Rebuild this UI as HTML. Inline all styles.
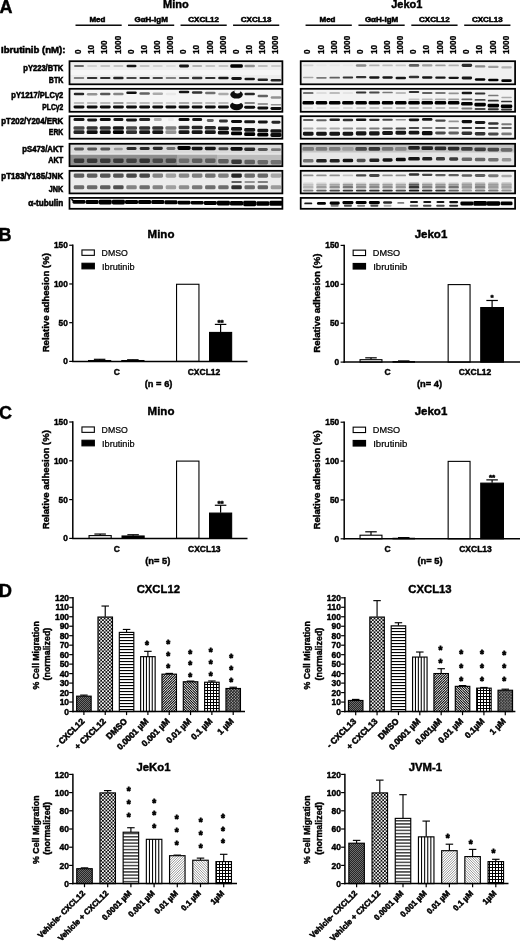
<!DOCTYPE html>
<html><head><meta charset="utf-8"><title>Figure</title>
<style>html,body{margin:0;padding:0;background:#fff}svg{display:block;filter:blur(0.3px)}text{stroke:#000;stroke-width:0.42px}text.hb{stroke-width:0.55px}text[font-weight=normal]{stroke-width:0.22px}</style>
</head><body>
<svg width="520" height="941" viewBox="0 0 520 941" font-family='"Liberation Sans", sans-serif' fill="#000">
<defs>
<filter id="b1" x="-20%" y="-100%" width="140%" height="300%"><feGaussianBlur stdDeviation="0.7"/></filter>
<filter id="b2" x="-20%" y="-100%" width="140%" height="300%"><feGaussianBlur stdDeviation="0.9"/></filter>
<filter id="b0" x="-5%" y="-5%" width="110%" height="110%"><feGaussianBlur stdDeviation="0.35"/></filter>
</defs>
<rect width="520" height="941" fill="#fff"/>
<text x="12.40" y="12.80" font-size="18" font-weight="bold" text-anchor="end" >A</text>
<text x="175.90" y="8.30" font-size="11" font-weight="bold" text-anchor="middle" >Mino</text>
<text x="406.80" y="8.30" font-size="11" font-weight="bold" text-anchor="middle" >Jeko1</text>
<rect x="75.50" y="24.5" width="46.19" height="1.45" fill="#000"/>
<text x="97.39" y="21.55" font-size="8.0" font-weight="bold" text-anchor="middle" class="hb">Med</text>
<rect x="128.02" y="24.5" width="46.19" height="1.45" fill="#000"/>
<text x="151.12" y="21.55" font-size="8.0" font-weight="bold" text-anchor="middle" class="hb">GαH-IgM</text>
<rect x="180.54" y="24.5" width="46.19" height="1.45" fill="#000"/>
<text x="203.64" y="21.55" font-size="8.0" font-weight="bold" text-anchor="middle" class="hb">CXCL12</text>
<rect x="233.06" y="24.5" width="46.19" height="1.45" fill="#000"/>
<text x="256.16" y="21.55" font-size="8.0" font-weight="bold" text-anchor="middle" class="hb">CXCL13</text>
<text x="81.20" y="54.00" font-size="8.2" font-weight="bold" text-anchor="start" transform="rotate(-90 81.20 54.00)" style="stroke-width:0.3px">0</text>
<text x="94.33" y="54.00" font-size="8.2" font-weight="bold" text-anchor="start" transform="rotate(-90 94.33 54.00)" style="stroke-width:0.3px">10</text>
<text x="107.46" y="54.00" font-size="8.2" font-weight="bold" text-anchor="start" transform="rotate(-90 107.46 54.00)" style="stroke-width:0.3px">100</text>
<text x="120.59" y="54.00" font-size="8.2" font-weight="bold" text-anchor="start" transform="rotate(-90 120.59 54.00)" style="stroke-width:0.3px">1000</text>
<text x="133.72" y="54.00" font-size="8.2" font-weight="bold" text-anchor="start" transform="rotate(-90 133.72 54.00)" style="stroke-width:0.3px">0</text>
<text x="146.85" y="54.00" font-size="8.2" font-weight="bold" text-anchor="start" transform="rotate(-90 146.85 54.00)" style="stroke-width:0.3px">10</text>
<text x="159.98" y="54.00" font-size="8.2" font-weight="bold" text-anchor="start" transform="rotate(-90 159.98 54.00)" style="stroke-width:0.3px">100</text>
<text x="173.11" y="54.00" font-size="8.2" font-weight="bold" text-anchor="start" transform="rotate(-90 173.11 54.00)" style="stroke-width:0.3px">1000</text>
<text x="186.24" y="54.00" font-size="8.2" font-weight="bold" text-anchor="start" transform="rotate(-90 186.24 54.00)" style="stroke-width:0.3px">0</text>
<text x="199.37" y="54.00" font-size="8.2" font-weight="bold" text-anchor="start" transform="rotate(-90 199.37 54.00)" style="stroke-width:0.3px">10</text>
<text x="212.50" y="54.00" font-size="8.2" font-weight="bold" text-anchor="start" transform="rotate(-90 212.50 54.00)" style="stroke-width:0.3px">100</text>
<text x="225.63" y="54.00" font-size="8.2" font-weight="bold" text-anchor="start" transform="rotate(-90 225.63 54.00)" style="stroke-width:0.3px">1000</text>
<text x="238.76" y="54.00" font-size="8.2" font-weight="bold" text-anchor="start" transform="rotate(-90 238.76 54.00)" style="stroke-width:0.3px">0</text>
<text x="251.89" y="54.00" font-size="8.2" font-weight="bold" text-anchor="start" transform="rotate(-90 251.89 54.00)" style="stroke-width:0.3px">10</text>
<text x="265.02" y="54.00" font-size="8.2" font-weight="bold" text-anchor="start" transform="rotate(-90 265.02 54.00)" style="stroke-width:0.3px">100</text>
<text x="278.15" y="54.00" font-size="8.2" font-weight="bold" text-anchor="start" transform="rotate(-90 278.15 54.00)" style="stroke-width:0.3px">1000</text>
<rect x="305.55" y="24.5" width="46.26" height="1.45" fill="#000"/>
<text x="327.48" y="21.55" font-size="8.0" font-weight="bold" text-anchor="middle" class="hb">Med</text>
<rect x="358.43" y="24.5" width="46.26" height="1.45" fill="#000"/>
<text x="381.56" y="21.55" font-size="8.0" font-weight="bold" text-anchor="middle" class="hb">GαH-IgM</text>
<rect x="411.31" y="24.5" width="46.26" height="1.45" fill="#000"/>
<text x="434.44" y="21.55" font-size="8.0" font-weight="bold" text-anchor="middle" class="hb">CXCL12</text>
<rect x="464.19" y="24.5" width="46.26" height="1.45" fill="#000"/>
<text x="487.32" y="21.55" font-size="8.0" font-weight="bold" text-anchor="middle" class="hb">CXCL13</text>
<text x="310.45" y="54.00" font-size="8.2" font-weight="bold" text-anchor="start" transform="rotate(-90 310.45 54.00)" style="stroke-width:0.3px">0</text>
<text x="323.67" y="54.00" font-size="8.2" font-weight="bold" text-anchor="start" transform="rotate(-90 323.67 54.00)" style="stroke-width:0.3px">10</text>
<text x="336.89" y="54.00" font-size="8.2" font-weight="bold" text-anchor="start" transform="rotate(-90 336.89 54.00)" style="stroke-width:0.3px">100</text>
<text x="350.11" y="54.00" font-size="8.2" font-weight="bold" text-anchor="start" transform="rotate(-90 350.11 54.00)" style="stroke-width:0.3px">1000</text>
<text x="363.33" y="54.00" font-size="8.2" font-weight="bold" text-anchor="start" transform="rotate(-90 363.33 54.00)" style="stroke-width:0.3px">0</text>
<text x="376.55" y="54.00" font-size="8.2" font-weight="bold" text-anchor="start" transform="rotate(-90 376.55 54.00)" style="stroke-width:0.3px">10</text>
<text x="389.77" y="54.00" font-size="8.2" font-weight="bold" text-anchor="start" transform="rotate(-90 389.77 54.00)" style="stroke-width:0.3px">100</text>
<text x="402.99" y="54.00" font-size="8.2" font-weight="bold" text-anchor="start" transform="rotate(-90 402.99 54.00)" style="stroke-width:0.3px">1000</text>
<text x="416.21" y="54.00" font-size="8.2" font-weight="bold" text-anchor="start" transform="rotate(-90 416.21 54.00)" style="stroke-width:0.3px">0</text>
<text x="429.43" y="54.00" font-size="8.2" font-weight="bold" text-anchor="start" transform="rotate(-90 429.43 54.00)" style="stroke-width:0.3px">10</text>
<text x="442.65" y="54.00" font-size="8.2" font-weight="bold" text-anchor="start" transform="rotate(-90 442.65 54.00)" style="stroke-width:0.3px">100</text>
<text x="455.87" y="54.00" font-size="8.2" font-weight="bold" text-anchor="start" transform="rotate(-90 455.87 54.00)" style="stroke-width:0.3px">1000</text>
<text x="469.09" y="54.00" font-size="8.2" font-weight="bold" text-anchor="start" transform="rotate(-90 469.09 54.00)" style="stroke-width:0.3px">0</text>
<text x="482.31" y="54.00" font-size="8.2" font-weight="bold" text-anchor="start" transform="rotate(-90 482.31 54.00)" style="stroke-width:0.3px">10</text>
<text x="495.53" y="54.00" font-size="8.2" font-weight="bold" text-anchor="start" transform="rotate(-90 495.53 54.00)" style="stroke-width:0.3px">100</text>
<text x="508.75" y="54.00" font-size="8.2" font-weight="bold" text-anchor="start" transform="rotate(-90 508.75 54.00)" style="stroke-width:0.3px">1000</text>
<text x="1.00" y="53.20" font-size="9.6" font-weight="bold" text-anchor="start" textLength="64.5" lengthAdjust="spacingAndGlyphs" class="hb">Ibrutinib (nM):</text>
<text x="63.30" y="70.80" font-size="8.6" font-weight="bold" text-anchor="end" textLength="40" lengthAdjust="spacingAndGlyphs" class="hb">pY223/BTK</text>
<text x="63.30" y="83.30" font-size="8.6" font-weight="bold" text-anchor="end" textLength="14.5" lengthAdjust="spacingAndGlyphs" class="hb">BTK</text>
<text x="63.30" y="97.80" font-size="8.6" font-weight="bold" text-anchor="end" textLength="52" lengthAdjust="spacingAndGlyphs" class="hb">pY1217/PLCγ2</text>
<text x="63.30" y="109.80" font-size="8.6" font-weight="bold" text-anchor="end" textLength="21" lengthAdjust="spacingAndGlyphs" class="hb">PLCγ2</text>
<text x="63.30" y="123.80" font-size="8.6" font-weight="bold" text-anchor="end" textLength="62" lengthAdjust="spacingAndGlyphs" class="hb">pT202/Y204/ERK</text>
<text x="63.30" y="135.30" font-size="8.6" font-weight="bold" text-anchor="end" textLength="14.5" lengthAdjust="spacingAndGlyphs" class="hb">ERK</text>
<text x="63.30" y="152.30" font-size="8.6" font-weight="bold" text-anchor="end" textLength="41" lengthAdjust="spacingAndGlyphs" class="hb">pS473/AKT</text>
<text x="63.30" y="163.30" font-size="8.6" font-weight="bold" text-anchor="end" textLength="15" lengthAdjust="spacingAndGlyphs" class="hb">AKT</text>
<text x="63.30" y="178.50" font-size="8.6" font-weight="bold" text-anchor="end" textLength="62" lengthAdjust="spacingAndGlyphs" class="hb">pT183/Y185/JNK</text>
<text x="63.30" y="191.50" font-size="8.6" font-weight="bold" text-anchor="end" textLength="14.5" lengthAdjust="spacingAndGlyphs" class="hb">JNK</text>
<text x="63.30" y="205.60" font-size="8.6" font-weight="bold" text-anchor="end" textLength="35" lengthAdjust="spacingAndGlyphs" class="hb">α-tubulin</text>
<g filter="url(#b1)"><rect x="69.5" y="61.2" width="212.89999999999998" height="23.099999999999994" fill="#eeeeee"/><rect x="69" y="70" width="213" height="5" fill="#f6f6f6"/><rect x="69.5" y="88.8" width="212.89999999999998" height="23.0" fill="#f5f5f5"/><rect x="69.5" y="116.2" width="212.89999999999998" height="22.499999999999986" fill="#f7f7f7"/><rect x="69.5" y="143.8" width="212.89999999999998" height="22.399999999999977" fill="#dadada"/><rect x="69" y="154.6" width="213" height="12.2" fill="#bcbcbc"/><rect x="69" y="154.6" width="108" height="12.2" fill="#8e8e8e"/><rect x="177" y="154.6" width="40" height="12.2" fill="#a8a8a8"/><rect x="69.5" y="153.4" width="213" height="1.2" fill="#ececec" opacity="0.8"/><rect x="69.5" y="170.8" width="212.89999999999998" height="22.599999999999994" fill="#ececec"/><rect x="69.5" y="197.9" width="212.89999999999998" height="10.900000000000006" fill="#fbfbfb"/><rect x="300.7" y="61.2" width="214.40000000000003" height="23.099999999999994" fill="#f0f0f0"/><rect x="300.7" y="88.8" width="214.40000000000003" height="23.0" fill="#f3f3f3"/><rect x="300.7" y="116.2" width="214.40000000000003" height="22.499999999999986" fill="#f5f5f5"/><rect x="300.7" y="143.8" width="214.40000000000003" height="22.399999999999977" fill="#e6e6e6"/><rect x="300.5" y="145" width="214" height="7.5" fill="#c4c4c4"/><rect x="300.7" y="170.8" width="214.40000000000003" height="22.599999999999994" fill="#f2f2f2"/><rect x="300.7" y="197.9" width="214.40000000000003" height="10.900000000000006" fill="#fbfbfb"/><rect x="74.00" y="64.90" width="10.00" height="2.20" rx="1.10" fill="#000" fill-opacity="0.55"/><rect x="87.13" y="64.90" width="10.00" height="2.20" rx="1.10" fill="#000" fill-opacity="0.12"/><rect x="100.26" y="64.90" width="10.00" height="2.20" rx="1.10" fill="#000" fill-opacity="0.18"/><rect x="113.39" y="64.90" width="10.00" height="2.20" rx="1.10" fill="#000" fill-opacity="0.18"/><rect x="126.52" y="64.68" width="10.00" height="2.64" rx="1.32" fill="#000" fill-opacity="0.90"/><rect x="139.65" y="64.90" width="10.00" height="2.20" rx="1.10" fill="#000" fill-opacity="0.18"/><rect x="152.78" y="64.90" width="10.00" height="2.20" rx="1.10" fill="#000" fill-opacity="0.12"/><rect x="165.91" y="64.90" width="10.00" height="2.20" rx="1.10" fill="#000" fill-opacity="0.08"/><rect x="179.04" y="64.57" width="10.00" height="2.86" rx="1.40" fill="#000" fill-opacity="0.90"/><rect x="192.17" y="64.90" width="10.00" height="2.20" rx="1.10" fill="#000" fill-opacity="0.25"/><rect x="205.30" y="64.90" width="10.00" height="2.20" rx="1.10" fill="#000" fill-opacity="0.18"/><rect x="218.43" y="64.90" width="10.00" height="2.20" rx="1.10" fill="#000" fill-opacity="0.18"/><rect x="230.31" y="64.13" width="12.50" height="3.74" rx="1.40" fill="#000" fill-opacity="1.00"/><rect x="244.44" y="64.68" width="10.50" height="2.64" rx="1.32" fill="#000" fill-opacity="0.40"/><rect x="257.82" y="64.90" width="10.00" height="2.20" rx="1.10" fill="#000" fill-opacity="0.20"/><rect x="270.95" y="64.90" width="10.00" height="2.20" rx="1.10" fill="#000" fill-opacity="0.15"/><rect x="73.75" y="77.12" width="10.50" height="1.76" rx="0.88" fill="#000" fill-opacity="0.45"/><rect x="86.88" y="76.90" width="10.50" height="2.20" rx="1.10" fill="#000" fill-opacity="0.80"/><rect x="100.01" y="76.90" width="10.50" height="2.20" rx="1.10" fill="#000" fill-opacity="0.80"/><rect x="113.14" y="76.79" width="10.50" height="2.42" rx="1.21" fill="#000" fill-opacity="0.85"/><rect x="126.27" y="76.90" width="10.50" height="2.20" rx="1.10" fill="#000" fill-opacity="0.70"/><rect x="139.40" y="76.90" width="10.50" height="2.20" rx="1.10" fill="#000" fill-opacity="0.80"/><rect x="152.53" y="76.90" width="10.50" height="2.20" rx="1.10" fill="#000" fill-opacity="0.70"/><rect x="165.66" y="77.12" width="10.50" height="1.76" rx="0.88" fill="#000" fill-opacity="0.45"/><rect x="178.79" y="76.90" width="10.50" height="2.20" rx="1.10" fill="#000" fill-opacity="0.70"/><rect x="191.92" y="76.79" width="10.50" height="2.42" rx="1.21" fill="#000" fill-opacity="0.80"/><rect x="205.05" y="76.90" width="10.50" height="2.20" rx="1.10" fill="#000" fill-opacity="0.80"/><rect x="218.18" y="76.68" width="10.50" height="2.64" rx="1.32" fill="#000" fill-opacity="0.90"/><rect x="231.31" y="77.07" width="10.50" height="2.86" rx="1.40" fill="#000" fill-opacity="0.90"/><rect x="244.44" y="77.68" width="10.50" height="2.64" rx="1.32" fill="#000" fill-opacity="0.90"/><rect x="257.57" y="78.49" width="10.50" height="2.42" rx="1.21" fill="#000" fill-opacity="0.85"/><rect x="270.70" y="79.09" width="10.50" height="2.42" rx="1.21" fill="#000" fill-opacity="0.85"/><rect x="73.75" y="92.73" width="10.50" height="2.53" rx="1.26" fill="#000" fill-opacity="0.85"/><rect x="86.88" y="93.03" width="10.50" height="2.53" rx="1.26" fill="#000" fill-opacity="0.40"/><rect x="100.01" y="92.73" width="10.50" height="2.53" rx="1.26" fill="#000" fill-opacity="0.65"/><rect x="113.14" y="92.73" width="10.50" height="2.53" rx="1.26" fill="#000" fill-opacity="0.45"/><rect x="126.27" y="91.53" width="10.50" height="2.53" rx="1.26" fill="#000" fill-opacity="0.95"/><rect x="139.40" y="92.23" width="10.50" height="2.53" rx="1.26" fill="#000" fill-opacity="0.60"/><rect x="152.53" y="92.44" width="10.50" height="2.53" rx="1.26" fill="#000" fill-opacity="0.30"/><rect x="165.66" y="92.73" width="10.50" height="2.53" rx="1.26" fill="#000" fill-opacity="0.05"/><rect x="178.79" y="90.73" width="10.50" height="2.53" rx="1.26" fill="#000" fill-opacity="0.90"/><rect x="191.92" y="91.23" width="10.50" height="2.53" rx="1.26" fill="#000" fill-opacity="0.80"/><rect x="205.05" y="91.73" width="10.50" height="2.53" rx="1.26" fill="#000" fill-opacity="0.55"/><rect x="218.18" y="92.73" width="10.50" height="2.53" rx="1.26" fill="#000" fill-opacity="0.30"/><rect x="244.44" y="92.73" width="10.50" height="2.53" rx="1.26" fill="#000" fill-opacity="0.85"/><rect x="257.57" y="94.73" width="10.50" height="2.53" rx="1.26" fill="#000" fill-opacity="0.60"/><rect x="270.70" y="96.23" width="10.50" height="2.53" rx="1.26" fill="#000" fill-opacity="0.40"/><rect x="73.75" y="102.25" width="10.50" height="1.49" rx="0.75" fill="#000" fill-opacity="0.30"/><rect x="86.88" y="102.25" width="10.50" height="1.49" rx="0.75" fill="#000" fill-opacity="0.30"/><rect x="100.01" y="102.25" width="10.50" height="1.49" rx="0.75" fill="#000" fill-opacity="0.30"/><rect x="113.14" y="102.25" width="10.50" height="1.49" rx="0.75" fill="#000" fill-opacity="0.50"/><rect x="126.27" y="102.25" width="10.50" height="1.49" rx="0.75" fill="#000" fill-opacity="0.30"/><rect x="139.40" y="102.25" width="10.50" height="1.49" rx="0.75" fill="#000" fill-opacity="0.30"/><rect x="152.53" y="102.25" width="10.50" height="1.49" rx="0.75" fill="#000" fill-opacity="0.30"/><rect x="165.66" y="102.25" width="10.50" height="1.49" rx="0.75" fill="#000" fill-opacity="0.20"/><rect x="178.79" y="102.25" width="10.50" height="1.49" rx="0.75" fill="#000" fill-opacity="0.40"/><rect x="191.92" y="102.25" width="10.50" height="1.49" rx="0.75" fill="#000" fill-opacity="0.40"/><rect x="205.05" y="102.25" width="10.50" height="1.49" rx="0.75" fill="#000" fill-opacity="0.30"/><rect x="218.18" y="102.25" width="10.50" height="1.49" rx="0.75" fill="#000" fill-opacity="0.30"/><rect x="244.44" y="102.25" width="10.50" height="1.49" rx="0.75" fill="#000" fill-opacity="0.60"/><rect x="257.57" y="103.25" width="10.50" height="1.49" rx="0.75" fill="#000" fill-opacity="0.50"/><rect x="270.70" y="103.95" width="10.50" height="1.49" rx="0.75" fill="#000" fill-opacity="0.40"/><rect x="73.50" y="105.56" width="11.00" height="2.88" rx="1.40" fill="#000" fill-opacity="0.95"/><rect x="86.63" y="105.56" width="11.00" height="2.88" rx="1.40" fill="#000" fill-opacity="0.95"/><rect x="99.76" y="105.56" width="11.00" height="2.88" rx="1.40" fill="#000" fill-opacity="0.95"/><rect x="112.89" y="105.56" width="11.00" height="2.88" rx="1.40" fill="#000" fill-opacity="0.95"/><rect x="126.02" y="105.56" width="11.00" height="2.88" rx="1.40" fill="#000" fill-opacity="0.95"/><rect x="139.15" y="105.56" width="11.00" height="2.88" rx="1.40" fill="#000" fill-opacity="0.95"/><rect x="152.28" y="105.56" width="11.00" height="2.88" rx="1.40" fill="#000" fill-opacity="0.95"/><rect x="165.41" y="105.56" width="11.00" height="2.88" rx="1.40" fill="#000" fill-opacity="0.95"/><rect x="178.54" y="105.56" width="11.00" height="2.88" rx="1.40" fill="#000" fill-opacity="0.95"/><rect x="191.67" y="105.56" width="11.00" height="2.88" rx="1.40" fill="#000" fill-opacity="0.95"/><rect x="204.80" y="105.56" width="11.00" height="2.88" rx="1.40" fill="#000" fill-opacity="0.95"/><rect x="217.93" y="105.56" width="11.00" height="2.88" rx="1.40" fill="#000" fill-opacity="0.95"/><rect x="244.19" y="105.86" width="11.00" height="2.88" rx="1.40" fill="#000" fill-opacity="0.95"/><rect x="257.32" y="106.56" width="11.00" height="2.88" rx="1.40" fill="#000" fill-opacity="0.95"/><rect x="270.45" y="107.06" width="11.00" height="2.88" rx="1.40" fill="#000" fill-opacity="0.95"/><ellipse cx="236.56" cy="106" rx="6.6" ry="4.2" fill="#111"/><ellipse cx="236.56" cy="94.6" rx="6.3" ry="4.0" fill="#111"/><ellipse cx="237.36" cy="91.6" rx="2.9" ry="1.9" fill="#f2f2f2"/><ellipse cx="236.86" cy="101.6" rx="4.4" ry="2.7" fill="#fff"/><rect x="73.50" y="118.11" width="11.00" height="2.97" rx="1.40" fill="#000" fill-opacity="0.90"/><rect x="87.13" y="118.41" width="10.00" height="2.97" rx="1.40" fill="#000" fill-opacity="0.90"/><rect x="99.76" y="118.11" width="11.00" height="2.97" rx="1.40" fill="#000" fill-opacity="0.95"/><rect x="113.39" y="118.11" width="10.00" height="2.97" rx="1.40" fill="#000" fill-opacity="0.90"/><rect x="126.02" y="118.41" width="11.00" height="2.97" rx="1.40" fill="#000" fill-opacity="0.90"/><rect x="139.15" y="118.11" width="11.00" height="2.97" rx="1.40" fill="#000" fill-opacity="0.85"/><rect x="153.78" y="118.11" width="8.00" height="2.97" rx="1.40" fill="#000" fill-opacity="0.30"/><rect x="167.91" y="118.11" width="6.00" height="2.97" rx="1.40" fill="#000" fill-opacity="0.05"/><rect x="178.54" y="118.11" width="11.00" height="2.97" rx="1.40" fill="#000" fill-opacity="0.95"/><rect x="192.17" y="118.11" width="10.00" height="2.97" rx="1.40" fill="#000" fill-opacity="0.90"/><rect x="206.80" y="118.91" width="7.00" height="2.97" rx="1.40" fill="#000" fill-opacity="0.60"/><rect x="218.93" y="119.52" width="9.00" height="2.97" rx="1.40" fill="#000" fill-opacity="0.80"/><rect x="231.06" y="119.91" width="11.00" height="2.97" rx="1.40" fill="#000" fill-opacity="0.95"/><rect x="244.19" y="120.31" width="11.00" height="2.97" rx="1.40" fill="#000" fill-opacity="0.90"/><rect x="257.82" y="120.52" width="10.00" height="2.97" rx="1.40" fill="#000" fill-opacity="0.90"/><rect x="271.45" y="120.71" width="9.00" height="2.97" rx="1.40" fill="#000" fill-opacity="0.85"/><rect x="73.50" y="126.18" width="11.00" height="3.65" rx="1.40" fill="#000" fill-opacity="0.70"/><rect x="86.63" y="126.18" width="11.00" height="3.65" rx="1.40" fill="#000" fill-opacity="0.80"/><rect x="99.76" y="126.18" width="11.00" height="3.65" rx="1.40" fill="#000" fill-opacity="0.80"/><rect x="112.89" y="126.18" width="11.00" height="3.65" rx="1.40" fill="#000" fill-opacity="0.90"/><rect x="126.02" y="126.18" width="11.00" height="3.65" rx="1.40" fill="#000" fill-opacity="0.70"/><rect x="139.15" y="126.18" width="11.00" height="3.65" rx="1.40" fill="#000" fill-opacity="0.80"/><rect x="152.28" y="126.18" width="11.00" height="3.65" rx="1.40" fill="#000" fill-opacity="0.80"/><rect x="165.41" y="126.18" width="11.00" height="3.65" rx="1.40" fill="#000" fill-opacity="0.50"/><rect x="178.54" y="125.68" width="11.00" height="3.65" rx="1.40" fill="#000" fill-opacity="0.80"/><rect x="191.67" y="125.68" width="11.00" height="3.65" rx="1.40" fill="#000" fill-opacity="0.85"/><rect x="204.80" y="125.88" width="11.00" height="3.65" rx="1.40" fill="#000" fill-opacity="0.85"/><rect x="217.93" y="126.48" width="11.00" height="3.65" rx="1.40" fill="#000" fill-opacity="0.90"/><rect x="231.06" y="126.98" width="11.00" height="3.65" rx="1.40" fill="#000" fill-opacity="0.90"/><rect x="244.19" y="127.98" width="11.00" height="3.65" rx="1.40" fill="#000" fill-opacity="0.90"/><rect x="257.32" y="128.68" width="11.00" height="3.65" rx="1.40" fill="#000" fill-opacity="0.90"/><rect x="270.45" y="129.18" width="11.00" height="3.65" rx="1.40" fill="#000" fill-opacity="0.90"/><rect x="73.50" y="130.31" width="11.00" height="3.78" rx="1.40" fill="#000" fill-opacity="0.85"/><rect x="86.63" y="130.31" width="11.00" height="3.78" rx="1.40" fill="#000" fill-opacity="0.95"/><rect x="99.76" y="130.31" width="11.00" height="3.78" rx="1.40" fill="#000" fill-opacity="0.95"/><rect x="112.89" y="130.31" width="11.00" height="3.78" rx="1.40" fill="#000" fill-opacity="1.00"/><rect x="126.02" y="130.31" width="11.00" height="3.78" rx="1.40" fill="#000" fill-opacity="0.80"/><rect x="139.15" y="130.31" width="11.00" height="3.78" rx="1.40" fill="#000" fill-opacity="0.90"/><rect x="152.28" y="130.31" width="11.00" height="3.78" rx="1.40" fill="#000" fill-opacity="0.90"/><rect x="165.41" y="130.31" width="11.00" height="3.78" rx="1.40" fill="#000" fill-opacity="0.40"/><rect x="178.54" y="130.31" width="11.00" height="3.78" rx="1.40" fill="#000" fill-opacity="0.90"/><rect x="191.67" y="130.31" width="11.00" height="3.78" rx="1.40" fill="#000" fill-opacity="0.90"/><rect x="204.80" y="130.31" width="11.00" height="3.78" rx="1.40" fill="#000" fill-opacity="0.90"/><rect x="217.93" y="130.81" width="11.00" height="3.78" rx="1.40" fill="#000" fill-opacity="0.95"/><rect x="231.06" y="131.51" width="11.00" height="3.78" rx="1.40" fill="#000" fill-opacity="1.00"/><rect x="244.19" y="132.31" width="11.00" height="3.78" rx="1.40" fill="#000" fill-opacity="1.00"/><rect x="257.32" y="132.81" width="11.00" height="3.78" rx="1.40" fill="#000" fill-opacity="1.00"/><rect x="270.45" y="133.11" width="11.00" height="3.78" rx="1.40" fill="#000" fill-opacity="0.95"/><rect x="74.00" y="147.51" width="10.00" height="2.97" rx="1.40" fill="#000" fill-opacity="0.60"/><rect x="87.13" y="147.51" width="10.00" height="2.97" rx="1.40" fill="#000" fill-opacity="0.60"/><rect x="100.26" y="147.51" width="10.00" height="2.97" rx="1.40" fill="#000" fill-opacity="0.60"/><rect x="113.89" y="147.78" width="9.00" height="2.43" rx="1.22" fill="#000" fill-opacity="0.30"/><rect x="126.52" y="146.88" width="10.00" height="3.24" rx="1.40" fill="#000" fill-opacity="0.80"/><rect x="139.65" y="146.88" width="10.00" height="3.24" rx="1.40" fill="#000" fill-opacity="0.80"/><rect x="152.78" y="146.68" width="10.00" height="3.24" rx="1.40" fill="#000" fill-opacity="0.80"/><rect x="166.41" y="147.08" width="9.00" height="2.84" rx="1.40" fill="#000" fill-opacity="0.50"/><rect x="177.54" y="145.97" width="13.00" height="4.05" rx="1.40" fill="#000" fill-opacity="1.00"/><rect x="191.67" y="146.75" width="11.00" height="3.51" rx="1.40" fill="#000" fill-opacity="0.90"/><rect x="204.80" y="146.81" width="11.00" height="3.38" rx="1.40" fill="#000" fill-opacity="0.90"/><rect x="218.43" y="147.25" width="10.00" height="3.10" rx="1.40" fill="#000" fill-opacity="0.70"/><rect x="230.56" y="146.91" width="12.00" height="3.78" rx="1.40" fill="#000" fill-opacity="0.95"/><rect x="244.19" y="147.61" width="11.00" height="3.38" rx="1.40" fill="#000" fill-opacity="0.80"/><rect x="257.82" y="148.01" width="10.00" height="2.97" rx="1.40" fill="#000" fill-opacity="0.60"/><rect x="270.95" y="148.35" width="10.00" height="2.70" rx="1.35" fill="#000" fill-opacity="0.45"/><rect x="73.75" y="158.41" width="10.50" height="4.59" rx="1.40" fill="#000" fill-opacity="0.60"/><rect x="86.88" y="158.41" width="10.50" height="4.59" rx="1.40" fill="#000" fill-opacity="0.60"/><rect x="100.01" y="158.41" width="10.50" height="4.59" rx="1.40" fill="#000" fill-opacity="0.60"/><rect x="113.14" y="158.41" width="10.50" height="4.59" rx="1.40" fill="#000" fill-opacity="0.60"/><rect x="126.27" y="158.41" width="10.50" height="4.59" rx="1.40" fill="#000" fill-opacity="0.55"/><rect x="139.40" y="158.41" width="10.50" height="4.59" rx="1.40" fill="#000" fill-opacity="0.65"/><rect x="152.53" y="158.41" width="10.50" height="4.59" rx="1.40" fill="#000" fill-opacity="0.50"/><rect x="165.66" y="158.41" width="10.50" height="4.59" rx="1.40" fill="#000" fill-opacity="0.50"/><rect x="178.79" y="158.41" width="10.50" height="4.59" rx="1.40" fill="#000" fill-opacity="0.35"/><rect x="191.92" y="158.41" width="10.50" height="4.59" rx="1.40" fill="#000" fill-opacity="0.45"/><rect x="205.05" y="158.41" width="10.50" height="4.59" rx="1.40" fill="#000" fill-opacity="0.45"/><rect x="218.18" y="158.91" width="10.50" height="4.59" rx="1.40" fill="#000" fill-opacity="0.50"/><rect x="231.31" y="159.41" width="10.50" height="4.59" rx="1.40" fill="#000" fill-opacity="0.70"/><rect x="244.44" y="159.71" width="10.50" height="4.59" rx="1.40" fill="#000" fill-opacity="0.50"/><rect x="257.57" y="159.91" width="10.50" height="4.59" rx="1.40" fill="#000" fill-opacity="0.45"/><rect x="270.70" y="159.91" width="10.50" height="4.59" rx="1.40" fill="#000" fill-opacity="0.40"/><rect x="73.75" y="173.44" width="10.50" height="4.32" rx="1.40" fill="#1a1a1a" fill-opacity="0.68"/><rect x="86.88" y="173.44" width="10.50" height="4.32" rx="1.40" fill="#1a1a1a" fill-opacity="0.68"/><rect x="100.01" y="173.44" width="10.50" height="4.32" rx="1.40" fill="#1a1a1a" fill-opacity="0.72"/><rect x="113.14" y="173.44" width="10.50" height="4.32" rx="1.40" fill="#1a1a1a" fill-opacity="0.72"/><rect x="126.27" y="173.44" width="10.50" height="4.32" rx="1.40" fill="#1a1a1a" fill-opacity="0.78"/><rect x="139.40" y="173.44" width="10.50" height="4.32" rx="1.40" fill="#1a1a1a" fill-opacity="0.78"/><rect x="152.53" y="173.44" width="10.50" height="4.32" rx="1.40" fill="#1a1a1a" fill-opacity="0.50"/><rect x="165.66" y="173.44" width="10.50" height="4.32" rx="1.40" fill="#1a1a1a" fill-opacity="0.36"/><rect x="178.79" y="173.44" width="10.50" height="4.32" rx="1.40" fill="#1a1a1a" fill-opacity="0.48"/><rect x="191.92" y="173.44" width="10.50" height="4.32" rx="1.40" fill="#1a1a1a" fill-opacity="0.52"/><rect x="205.05" y="173.44" width="10.50" height="4.32" rx="1.40" fill="#1a1a1a" fill-opacity="0.58"/><rect x="218.18" y="173.44" width="10.50" height="4.32" rx="1.40" fill="#1a1a1a" fill-opacity="0.52"/><rect x="231.31" y="173.44" width="10.50" height="4.32" rx="1.40" fill="#1a1a1a" fill-opacity="0.95"/><rect x="244.44" y="173.44" width="10.50" height="4.32" rx="1.40" fill="#1a1a1a" fill-opacity="0.60"/><rect x="257.57" y="173.44" width="10.50" height="4.32" rx="1.40" fill="#1a1a1a" fill-opacity="0.62"/><rect x="270.70" y="173.44" width="10.50" height="4.32" rx="1.40" fill="#1a1a1a" fill-opacity="0.33"/><rect x="231.31" y="181.19" width="10.50" height="1.62" rx="0.81" fill="#000" fill-opacity="0.80"/><rect x="244.44" y="181.19" width="10.50" height="1.62" rx="0.81" fill="#000" fill-opacity="0.50"/><rect x="257.57" y="181.19" width="10.50" height="1.62" rx="0.81" fill="#000" fill-opacity="0.60"/><rect x="73.75" y="185.28" width="10.50" height="4.05" rx="1.40" fill="#1a1a1a" fill-opacity="0.62"/><rect x="86.88" y="185.28" width="10.50" height="4.05" rx="1.40" fill="#1a1a1a" fill-opacity="0.62"/><rect x="100.01" y="185.28" width="10.50" height="4.05" rx="1.40" fill="#1a1a1a" fill-opacity="0.68"/><rect x="113.14" y="185.28" width="10.50" height="4.05" rx="1.40" fill="#1a1a1a" fill-opacity="0.74"/><rect x="126.27" y="185.28" width="10.50" height="4.05" rx="1.40" fill="#1a1a1a" fill-opacity="0.50"/><rect x="139.40" y="185.28" width="10.50" height="4.05" rx="1.40" fill="#1a1a1a" fill-opacity="0.60"/><rect x="152.53" y="185.28" width="10.50" height="4.05" rx="1.40" fill="#1a1a1a" fill-opacity="0.50"/><rect x="165.66" y="185.28" width="10.50" height="4.05" rx="1.40" fill="#1a1a1a" fill-opacity="0.36"/><rect x="178.79" y="185.28" width="10.50" height="4.05" rx="1.40" fill="#1a1a1a" fill-opacity="0.45"/><rect x="191.92" y="185.28" width="10.50" height="4.05" rx="1.40" fill="#1a1a1a" fill-opacity="0.55"/><rect x="205.05" y="185.28" width="10.50" height="4.05" rx="1.40" fill="#1a1a1a" fill-opacity="0.60"/><rect x="218.18" y="185.28" width="10.50" height="4.05" rx="1.40" fill="#1a1a1a" fill-opacity="0.60"/><rect x="231.31" y="185.28" width="10.50" height="4.05" rx="1.40" fill="#1a1a1a" fill-opacity="0.90"/><rect x="244.44" y="185.28" width="10.50" height="4.05" rx="1.40" fill="#1a1a1a" fill-opacity="0.62"/><rect x="257.57" y="185.28" width="10.50" height="4.05" rx="1.40" fill="#1a1a1a" fill-opacity="0.65"/><rect x="270.70" y="185.28" width="10.50" height="4.05" rx="1.40" fill="#1a1a1a" fill-opacity="0.38"/><rect x="72.50" y="200.04" width="13.00" height="3.72" rx="1.40" fill="#000" fill-opacity="1.00"/><rect x="85.63" y="200.09" width="13.00" height="4.03" rx="1.40" fill="#000" fill-opacity="1.00"/><rect x="98.76" y="199.78" width="13.00" height="4.65" rx="1.40" fill="#000" fill-opacity="1.00"/><rect x="111.89" y="199.78" width="13.00" height="4.65" rx="1.40" fill="#000" fill-opacity="1.00"/><rect x="125.02" y="200.09" width="13.00" height="4.03" rx="1.40" fill="#000" fill-opacity="1.00"/><rect x="138.15" y="200.09" width="13.00" height="4.03" rx="1.40" fill="#000" fill-opacity="1.00"/><rect x="151.28" y="200.09" width="13.00" height="4.03" rx="1.40" fill="#000" fill-opacity="1.00"/><rect x="164.41" y="200.28" width="13.00" height="4.03" rx="1.40" fill="#000" fill-opacity="1.00"/><rect x="177.54" y="200.74" width="13.00" height="3.72" rx="1.40" fill="#000" fill-opacity="1.00"/><rect x="190.67" y="200.99" width="13.00" height="3.41" rx="1.40" fill="#000" fill-opacity="1.00"/><rect x="203.80" y="200.89" width="13.00" height="4.03" rx="1.40" fill="#000" fill-opacity="1.00"/><rect x="216.93" y="200.78" width="13.00" height="4.65" rx="1.40" fill="#000" fill-opacity="1.00"/><rect x="230.06" y="200.97" width="13.00" height="4.65" rx="1.40" fill="#000" fill-opacity="1.00"/><rect x="243.19" y="200.87" width="13.00" height="5.27" rx="1.40" fill="#000" fill-opacity="1.00"/><rect x="256.32" y="201.18" width="13.00" height="4.65" rx="1.40" fill="#000" fill-opacity="1.00"/><rect x="269.45" y="200.82" width="13.00" height="4.96" rx="1.40" fill="#000" fill-opacity="1.00"/><path d="M71.5 199.2 Q73.5 201.6 77 201.8" stroke="#000" stroke-width="1.6" fill="none"/><rect x="303.00" y="64.61" width="10.50" height="1.58" rx="0.79" fill="#222" fill-opacity="0.15"/><rect x="316.22" y="64.61" width="10.50" height="1.58" rx="0.79" fill="#222" fill-opacity="0.04"/><rect x="329.44" y="64.61" width="10.50" height="1.58" rx="0.79" fill="#222" fill-opacity="0.04"/><rect x="342.66" y="64.61" width="10.50" height="1.58" rx="0.79" fill="#222" fill-opacity="0.04"/><rect x="355.88" y="64.14" width="10.50" height="2.52" rx="1.26" fill="#222" fill-opacity="0.50"/><rect x="369.10" y="64.56" width="10.50" height="1.68" rx="0.84" fill="#222" fill-opacity="0.30"/><rect x="382.32" y="64.56" width="10.50" height="1.68" rx="0.84" fill="#222" fill-opacity="0.25"/><rect x="395.54" y="64.56" width="10.50" height="1.68" rx="0.84" fill="#222" fill-opacity="0.20"/><rect x="408.76" y="64.04" width="10.50" height="2.73" rx="1.37" fill="#222" fill-opacity="0.70"/><rect x="421.98" y="64.35" width="10.50" height="2.10" rx="1.05" fill="#222" fill-opacity="0.40"/><rect x="435.20" y="64.46" width="10.50" height="1.89" rx="0.95" fill="#222" fill-opacity="0.40"/><rect x="448.42" y="64.56" width="10.50" height="1.68" rx="0.84" fill="#222" fill-opacity="0.30"/><rect x="461.64" y="63.83" width="10.50" height="3.15" rx="1.40" fill="#222" fill-opacity="0.95"/><rect x="474.86" y="65.25" width="10.50" height="2.31" rx="1.16" fill="#222" fill-opacity="0.50"/><rect x="488.08" y="65.85" width="10.50" height="2.10" rx="1.05" fill="#222" fill-opacity="0.40"/><rect x="501.30" y="66.35" width="10.50" height="2.10" rx="1.05" fill="#222" fill-opacity="0.30"/><rect x="303.00" y="76.77" width="10.50" height="1.47" rx="0.73" fill="#000" fill-opacity="0.30"/><rect x="316.22" y="76.96" width="10.50" height="1.68" rx="0.84" fill="#000" fill-opacity="0.50"/><rect x="329.44" y="76.86" width="10.50" height="1.68" rx="0.84" fill="#000" fill-opacity="0.60"/><rect x="342.66" y="76.56" width="10.50" height="1.89" rx="0.95" fill="#000" fill-opacity="0.80"/><rect x="355.88" y="76.05" width="10.50" height="2.31" rx="1.16" fill="#000" fill-opacity="0.80"/><rect x="369.10" y="76.34" width="10.50" height="2.31" rx="1.16" fill="#000" fill-opacity="0.90"/><rect x="382.32" y="76.34" width="10.50" height="2.31" rx="1.16" fill="#000" fill-opacity="0.90"/><rect x="395.54" y="76.74" width="10.50" height="2.52" rx="1.26" fill="#000" fill-opacity="0.90"/><rect x="408.76" y="75.64" width="10.50" height="2.73" rx="1.37" fill="#000" fill-opacity="0.80"/><rect x="421.98" y="76.34" width="10.50" height="2.31" rx="1.16" fill="#000" fill-opacity="0.90"/><rect x="435.20" y="76.55" width="10.50" height="2.31" rx="1.16" fill="#000" fill-opacity="0.90"/><rect x="448.42" y="76.64" width="10.50" height="2.31" rx="1.16" fill="#000" fill-opacity="0.90"/><rect x="461.64" y="76.53" width="10.50" height="2.94" rx="1.40" fill="#000" fill-opacity="0.90"/><rect x="474.86" y="78.14" width="10.50" height="2.73" rx="1.37" fill="#000" fill-opacity="1.00"/><rect x="488.08" y="78.64" width="10.50" height="2.73" rx="1.37" fill="#000" fill-opacity="1.00"/><rect x="501.30" y="79.34" width="10.50" height="2.73" rx="1.37" fill="#000" fill-opacity="1.00"/><rect x="303.00" y="92.16" width="10.50" height="1.68" rx="0.84" fill="#000" fill-opacity="0.70"/><rect x="316.22" y="92.16" width="10.50" height="1.68" rx="0.84" fill="#000" fill-opacity="0.12"/><rect x="329.44" y="92.16" width="10.50" height="1.68" rx="0.84" fill="#000" fill-opacity="0.30"/><rect x="342.66" y="92.16" width="10.50" height="1.68" rx="0.84" fill="#000" fill-opacity="0.08"/><rect x="355.88" y="91.45" width="10.50" height="2.10" rx="1.05" fill="#000" fill-opacity="0.80"/><rect x="369.10" y="91.56" width="10.50" height="1.89" rx="0.95" fill="#000" fill-opacity="0.70"/><rect x="382.32" y="91.66" width="10.50" height="1.68" rx="0.84" fill="#000" fill-opacity="0.50"/><rect x="395.54" y="92.21" width="10.50" height="1.58" rx="0.79" fill="#000" fill-opacity="0.30"/><rect x="408.76" y="90.95" width="10.50" height="2.10" rx="1.05" fill="#000" fill-opacity="0.80"/><rect x="421.98" y="91.95" width="10.50" height="2.10" rx="1.05" fill="#000" fill-opacity="0.60"/><rect x="435.20" y="92.06" width="10.50" height="1.89" rx="0.95" fill="#000" fill-opacity="0.50"/><rect x="448.42" y="92.46" width="10.50" height="1.68" rx="0.84" fill="#000" fill-opacity="0.40"/><rect x="461.64" y="91.74" width="10.50" height="2.52" rx="1.26" fill="#000" fill-opacity="0.90"/><rect x="474.86" y="92.45" width="10.50" height="2.10" rx="1.05" fill="#000" fill-opacity="0.80"/><rect x="488.08" y="94.66" width="10.50" height="1.68" rx="0.84" fill="#000" fill-opacity="0.50"/><rect x="501.30" y="96.77" width="10.50" height="1.47" rx="0.73" fill="#000" fill-opacity="0.30"/><rect x="302.50" y="101.02" width="11.50" height="3.57" rx="1.40" fill="#000" fill-opacity="1.00"/><rect x="315.72" y="101.02" width="11.50" height="3.57" rx="1.40" fill="#000" fill-opacity="1.00"/><rect x="328.94" y="101.02" width="11.50" height="3.57" rx="1.40" fill="#000" fill-opacity="1.00"/><rect x="342.16" y="101.02" width="11.50" height="3.57" rx="1.40" fill="#000" fill-opacity="1.00"/><rect x="355.38" y="101.02" width="11.50" height="3.57" rx="1.40" fill="#000" fill-opacity="1.00"/><rect x="368.60" y="101.02" width="11.50" height="3.57" rx="1.40" fill="#000" fill-opacity="1.00"/><rect x="381.82" y="101.02" width="11.50" height="3.57" rx="1.40" fill="#000" fill-opacity="1.00"/><rect x="395.04" y="101.02" width="11.50" height="3.57" rx="1.40" fill="#000" fill-opacity="1.00"/><rect x="408.26" y="101.02" width="11.50" height="3.57" rx="1.40" fill="#000" fill-opacity="1.00"/><rect x="421.48" y="101.02" width="11.50" height="3.57" rx="1.40" fill="#000" fill-opacity="1.00"/><rect x="434.70" y="101.02" width="11.50" height="3.57" rx="1.40" fill="#000" fill-opacity="1.00"/><rect x="447.92" y="101.02" width="11.50" height="3.57" rx="1.40" fill="#000" fill-opacity="1.00"/><rect x="461.14" y="102.02" width="11.50" height="3.57" rx="1.40" fill="#000" fill-opacity="1.00"/><rect x="474.36" y="102.81" width="11.50" height="3.57" rx="1.40" fill="#000" fill-opacity="1.00"/><rect x="487.58" y="103.81" width="11.50" height="3.57" rx="1.40" fill="#000" fill-opacity="1.00"/><rect x="500.80" y="104.52" width="11.50" height="3.57" rx="1.40" fill="#000" fill-opacity="1.00"/><rect x="303.25" y="107.21" width="10.00" height="1.58" rx="0.79" fill="#000" fill-opacity="0.10"/><rect x="316.47" y="107.21" width="10.00" height="1.58" rx="0.79" fill="#000" fill-opacity="0.10"/><rect x="329.69" y="107.21" width="10.00" height="1.58" rx="0.79" fill="#000" fill-opacity="0.10"/><rect x="342.91" y="107.21" width="10.00" height="1.58" rx="0.79" fill="#000" fill-opacity="0.15"/><rect x="356.13" y="107.21" width="10.00" height="1.58" rx="0.79" fill="#000" fill-opacity="0.20"/><rect x="369.35" y="107.21" width="10.00" height="1.58" rx="0.79" fill="#000" fill-opacity="0.25"/><rect x="382.57" y="107.21" width="10.00" height="1.58" rx="0.79" fill="#000" fill-opacity="0.25"/><rect x="395.79" y="107.21" width="10.00" height="1.58" rx="0.79" fill="#000" fill-opacity="0.30"/><rect x="409.01" y="107.21" width="10.00" height="1.58" rx="0.79" fill="#000" fill-opacity="0.30"/><rect x="422.23" y="107.21" width="10.00" height="1.58" rx="0.79" fill="#000" fill-opacity="0.30"/><rect x="435.45" y="107.21" width="10.00" height="1.58" rx="0.79" fill="#000" fill-opacity="0.30"/><rect x="448.67" y="107.21" width="10.00" height="1.58" rx="0.79" fill="#000" fill-opacity="0.30"/><rect x="408.51" y="98.46" width="11.00" height="1.68" rx="0.84" fill="#000" fill-opacity="0.20"/><rect x="421.73" y="98.46" width="11.00" height="1.68" rx="0.84" fill="#000" fill-opacity="0.25"/><rect x="434.95" y="98.46" width="11.00" height="1.68" rx="0.84" fill="#000" fill-opacity="0.30"/><rect x="448.17" y="98.46" width="11.00" height="1.68" rx="0.84" fill="#000" fill-opacity="0.35"/><rect x="461.39" y="98.46" width="11.00" height="1.68" rx="0.84" fill="#000" fill-opacity="0.60"/><rect x="474.61" y="99.06" width="11.00" height="1.68" rx="0.84" fill="#000" fill-opacity="0.70"/><rect x="487.83" y="99.86" width="11.00" height="1.68" rx="0.84" fill="#000" fill-opacity="0.80"/><rect x="501.05" y="100.66" width="11.00" height="1.68" rx="0.84" fill="#000" fill-opacity="0.80"/><rect x="461.39" y="107.56" width="11.00" height="1.89" rx="0.95" fill="#000" fill-opacity="0.50"/><rect x="474.61" y="108.06" width="11.00" height="1.89" rx="0.95" fill="#000" fill-opacity="0.70"/><rect x="487.83" y="108.36" width="11.00" height="1.89" rx="0.95" fill="#000" fill-opacity="0.80"/><rect x="501.05" y="108.56" width="11.00" height="1.89" rx="0.95" fill="#000" fill-opacity="0.80"/><rect x="303.00" y="119.10" width="10.50" height="2.00" rx="1.00" fill="#000" fill-opacity="0.60"/><rect x="316.22" y="119.30" width="10.50" height="2.00" rx="1.00" fill="#000" fill-opacity="0.60"/><rect x="329.44" y="118.55" width="10.50" height="2.50" rx="1.25" fill="#000" fill-opacity="0.85"/><rect x="342.66" y="118.75" width="10.50" height="2.50" rx="1.25" fill="#000" fill-opacity="0.80"/><rect x="355.88" y="118.55" width="10.50" height="2.50" rx="1.25" fill="#000" fill-opacity="0.90"/><rect x="369.10" y="118.67" width="10.50" height="2.25" rx="1.12" fill="#000" fill-opacity="0.80"/><rect x="382.32" y="118.80" width="10.50" height="2.00" rx="1.00" fill="#000" fill-opacity="0.70"/><rect x="395.54" y="118.99" width="10.50" height="1.62" rx="0.81" fill="#000" fill-opacity="0.40"/><rect x="408.76" y="118.42" width="10.50" height="2.75" rx="1.38" fill="#000" fill-opacity="0.90"/><rect x="421.98" y="118.12" width="10.50" height="2.75" rx="1.38" fill="#000" fill-opacity="0.90"/><rect x="435.20" y="119.47" width="10.50" height="2.25" rx="1.12" fill="#000" fill-opacity="0.70"/><rect x="448.42" y="120.52" width="10.50" height="1.75" rx="0.88" fill="#000" fill-opacity="0.40"/><rect x="461.64" y="119.97" width="10.50" height="3.25" rx="1.40" fill="#000" fill-opacity="0.95"/><rect x="474.86" y="120.90" width="10.50" height="3.00" rx="1.40" fill="#000" fill-opacity="0.90"/><rect x="488.08" y="122.15" width="10.50" height="2.50" rx="1.25" fill="#000" fill-opacity="0.80"/><rect x="501.30" y="123.26" width="10.50" height="1.88" rx="0.94" fill="#000" fill-opacity="0.50"/><rect x="303.00" y="127.56" width="10.50" height="1.88" rx="0.94" fill="#000" fill-opacity="0.30"/><rect x="316.22" y="127.56" width="10.50" height="1.88" rx="0.94" fill="#000" fill-opacity="0.30"/><rect x="329.44" y="127.56" width="10.50" height="1.88" rx="0.94" fill="#000" fill-opacity="0.30"/><rect x="342.66" y="127.56" width="10.50" height="1.88" rx="0.94" fill="#000" fill-opacity="0.40"/><rect x="355.88" y="127.56" width="10.50" height="1.88" rx="0.94" fill="#000" fill-opacity="0.40"/><rect x="369.10" y="127.56" width="10.50" height="1.88" rx="0.94" fill="#000" fill-opacity="0.50"/><rect x="382.32" y="127.56" width="10.50" height="1.88" rx="0.94" fill="#000" fill-opacity="0.60"/><rect x="395.54" y="127.56" width="10.50" height="1.88" rx="0.94" fill="#000" fill-opacity="0.70"/><rect x="408.76" y="127.06" width="10.50" height="1.88" rx="0.94" fill="#000" fill-opacity="0.70"/><rect x="421.98" y="127.06" width="10.50" height="1.88" rx="0.94" fill="#000" fill-opacity="0.50"/><rect x="435.20" y="127.06" width="10.50" height="1.88" rx="0.94" fill="#000" fill-opacity="0.60"/><rect x="448.42" y="127.06" width="10.50" height="1.88" rx="0.94" fill="#000" fill-opacity="0.50"/><rect x="461.64" y="127.06" width="10.50" height="1.88" rx="0.94" fill="#000" fill-opacity="0.80"/><rect x="474.86" y="127.06" width="10.50" height="1.88" rx="0.94" fill="#000" fill-opacity="0.80"/><rect x="488.08" y="127.06" width="10.50" height="1.88" rx="0.94" fill="#000" fill-opacity="0.70"/><rect x="501.30" y="127.06" width="10.50" height="1.88" rx="0.94" fill="#000" fill-opacity="0.60"/><rect x="302.95" y="131.64" width="10.60" height="4.12" rx="1.40" fill="#000" fill-opacity="0.92"/><rect x="316.17" y="131.64" width="10.60" height="4.12" rx="1.40" fill="#000" fill-opacity="0.92"/><rect x="329.39" y="131.64" width="10.60" height="4.12" rx="1.40" fill="#000" fill-opacity="0.92"/><rect x="342.61" y="131.64" width="10.60" height="4.12" rx="1.40" fill="#000" fill-opacity="0.92"/><rect x="355.83" y="131.34" width="10.60" height="4.12" rx="1.40" fill="#000" fill-opacity="0.90"/><rect x="369.05" y="131.34" width="10.60" height="4.12" rx="1.40" fill="#000" fill-opacity="0.90"/><rect x="382.27" y="130.94" width="10.60" height="4.12" rx="1.40" fill="#000" fill-opacity="0.90"/><rect x="395.49" y="130.64" width="10.60" height="4.12" rx="1.40" fill="#000" fill-opacity="0.90"/><rect x="408.71" y="130.82" width="10.60" height="3.75" rx="1.40" fill="#000" fill-opacity="0.92"/><rect x="421.93" y="131.07" width="10.60" height="4.25" rx="1.40" fill="#000" fill-opacity="0.95"/><rect x="435.15" y="131.40" width="10.60" height="3.00" rx="1.40" fill="#000" fill-opacity="0.70"/><rect x="448.37" y="131.40" width="10.60" height="3.00" rx="1.40" fill="#000" fill-opacity="0.60"/><rect x="461.59" y="131.45" width="10.60" height="3.50" rx="1.40" fill="#000" fill-opacity="0.80"/><rect x="474.81" y="131.95" width="10.60" height="3.50" rx="1.40" fill="#000" fill-opacity="0.80"/><rect x="488.03" y="132.40" width="10.60" height="3.00" rx="1.40" fill="#000" fill-opacity="0.70"/><rect x="501.25" y="132.52" width="10.60" height="2.75" rx="1.38" fill="#000" fill-opacity="0.50"/><rect x="302.50" y="147.12" width="11.50" height="3.75" rx="1.40" fill="#111" fill-opacity="0.40"/><rect x="315.72" y="147.12" width="11.50" height="3.75" rx="1.40" fill="#111" fill-opacity="0.40"/><rect x="328.94" y="147.12" width="11.50" height="3.75" rx="1.40" fill="#111" fill-opacity="0.40"/><rect x="342.16" y="147.12" width="11.50" height="3.75" rx="1.40" fill="#111" fill-opacity="0.22"/><rect x="355.38" y="147.12" width="11.50" height="3.75" rx="1.40" fill="#111" fill-opacity="0.70"/><rect x="368.60" y="147.12" width="11.50" height="3.75" rx="1.40" fill="#111" fill-opacity="0.80"/><rect x="381.82" y="147.12" width="11.50" height="3.75" rx="1.40" fill="#111" fill-opacity="0.45"/><rect x="395.04" y="147.12" width="11.50" height="3.75" rx="1.40" fill="#111" fill-opacity="0.35"/><rect x="408.26" y="146.12" width="11.50" height="3.75" rx="1.40" fill="#111" fill-opacity="0.90"/><rect x="421.48" y="146.32" width="11.50" height="3.75" rx="1.40" fill="#111" fill-opacity="0.90"/><rect x="434.70" y="146.53" width="11.50" height="3.75" rx="1.40" fill="#111" fill-opacity="0.85"/><rect x="447.92" y="146.72" width="11.50" height="3.75" rx="1.40" fill="#111" fill-opacity="0.85"/><rect x="461.14" y="147.12" width="11.50" height="3.75" rx="1.40" fill="#111" fill-opacity="0.75"/><rect x="474.36" y="147.43" width="11.50" height="3.75" rx="1.40" fill="#111" fill-opacity="0.75"/><rect x="487.58" y="147.72" width="11.50" height="3.75" rx="1.40" fill="#111" fill-opacity="0.70"/><rect x="500.80" y="147.93" width="11.50" height="3.75" rx="1.40" fill="#111" fill-opacity="0.50"/><rect x="303.00" y="159.05" width="10.50" height="3.50" rx="1.40" fill="#000" fill-opacity="0.50"/><rect x="316.22" y="159.05" width="10.50" height="3.50" rx="1.40" fill="#000" fill-opacity="0.85"/><rect x="329.69" y="159.05" width="10.00" height="3.50" rx="1.40" fill="#000" fill-opacity="0.85"/><rect x="342.66" y="158.85" width="10.50" height="3.50" rx="1.40" fill="#000" fill-opacity="0.90"/><rect x="356.63" y="158.75" width="9.00" height="3.50" rx="1.40" fill="#000" fill-opacity="0.65"/><rect x="369.35" y="158.55" width="10.00" height="3.50" rx="1.40" fill="#000" fill-opacity="0.85"/><rect x="382.57" y="158.25" width="10.00" height="3.50" rx="1.40" fill="#000" fill-opacity="0.90"/><rect x="395.79" y="157.85" width="10.00" height="3.50" rx="1.40" fill="#000" fill-opacity="0.95"/><rect x="408.26" y="157.05" width="11.50" height="3.50" rx="1.40" fill="#000" fill-opacity="0.90"/><rect x="422.23" y="157.05" width="10.00" height="3.50" rx="1.40" fill="#000" fill-opacity="0.85"/><rect x="435.95" y="157.05" width="9.00" height="3.50" rx="1.40" fill="#000" fill-opacity="0.75"/><rect x="449.17" y="157.25" width="9.00" height="3.50" rx="1.40" fill="#000" fill-opacity="0.75"/><rect x="461.64" y="157.55" width="10.50" height="3.50" rx="1.40" fill="#000" fill-opacity="0.55"/><rect x="474.86" y="157.85" width="10.50" height="3.50" rx="1.40" fill="#000" fill-opacity="0.55"/><rect x="488.08" y="157.95" width="10.50" height="3.50" rx="1.40" fill="#000" fill-opacity="0.50"/><rect x="501.80" y="158.05" width="9.50" height="3.50" rx="1.40" fill="#000" fill-opacity="0.35"/><rect x="303.00" y="174.53" width="10.50" height="1.75" rx="0.88" fill="#000" fill-opacity="0.40"/><rect x="316.22" y="174.53" width="10.50" height="1.75" rx="0.88" fill="#000" fill-opacity="0.40"/><rect x="329.44" y="174.53" width="10.50" height="1.75" rx="0.88" fill="#000" fill-opacity="0.40"/><rect x="342.66" y="174.53" width="10.50" height="1.75" rx="0.88" fill="#000" fill-opacity="0.20"/><rect x="355.88" y="174.28" width="10.50" height="2.25" rx="1.12" fill="#000" fill-opacity="0.70"/><rect x="369.10" y="173.90" width="10.50" height="3.00" rx="1.40" fill="#000" fill-opacity="0.70"/><rect x="382.32" y="174.53" width="10.50" height="1.75" rx="0.88" fill="#000" fill-opacity="0.40"/><rect x="395.54" y="174.53" width="10.50" height="1.75" rx="0.88" fill="#000" fill-opacity="0.40"/><rect x="408.76" y="173.35" width="10.50" height="2.50" rx="1.25" fill="#000" fill-opacity="0.80"/><rect x="421.98" y="173.68" width="10.50" height="2.25" rx="1.12" fill="#000" fill-opacity="0.70"/><rect x="435.20" y="173.88" width="10.50" height="2.25" rx="1.12" fill="#000" fill-opacity="0.60"/><rect x="448.42" y="174.08" width="10.50" height="2.25" rx="1.12" fill="#000" fill-opacity="0.60"/><rect x="461.64" y="174.15" width="10.50" height="2.50" rx="1.25" fill="#000" fill-opacity="0.60"/><rect x="474.86" y="173.90" width="10.50" height="3.00" rx="1.40" fill="#000" fill-opacity="0.60"/><rect x="488.08" y="174.20" width="10.50" height="3.00" rx="1.40" fill="#000" fill-opacity="0.50"/><rect x="501.30" y="174.65" width="10.50" height="2.50" rx="1.25" fill="#000" fill-opacity="0.30"/><rect x="303.00" y="183.80" width="10.50" height="2.00" rx="1.00" fill="#222" fill-opacity="0.15"/><rect x="316.22" y="183.80" width="10.50" height="2.00" rx="1.00" fill="#222" fill-opacity="0.22"/><rect x="329.44" y="183.80" width="10.50" height="2.00" rx="1.00" fill="#222" fill-opacity="0.30"/><rect x="342.66" y="183.80" width="10.50" height="2.00" rx="1.00" fill="#222" fill-opacity="0.38"/><rect x="355.88" y="183.80" width="10.50" height="2.00" rx="1.00" fill="#222" fill-opacity="0.34"/><rect x="369.10" y="183.80" width="10.50" height="2.00" rx="1.00" fill="#222" fill-opacity="0.38"/><rect x="382.32" y="183.80" width="10.50" height="2.00" rx="1.00" fill="#222" fill-opacity="0.34"/><rect x="395.54" y="183.80" width="10.50" height="2.00" rx="1.00" fill="#222" fill-opacity="0.30"/><rect x="408.76" y="183.80" width="10.50" height="2.00" rx="1.00" fill="#222" fill-opacity="0.60"/><rect x="421.98" y="183.80" width="10.50" height="2.00" rx="1.00" fill="#222" fill-opacity="0.34"/><rect x="435.20" y="183.80" width="10.50" height="2.00" rx="1.00" fill="#222" fill-opacity="0.34"/><rect x="448.42" y="183.80" width="10.50" height="2.00" rx="1.00" fill="#222" fill-opacity="0.34"/><rect x="461.64" y="183.80" width="10.50" height="2.00" rx="1.00" fill="#222" fill-opacity="0.22"/><rect x="474.86" y="183.80" width="10.50" height="2.00" rx="1.00" fill="#222" fill-opacity="0.26"/><rect x="488.08" y="183.80" width="10.50" height="2.00" rx="1.00" fill="#222" fill-opacity="0.22"/><rect x="501.30" y="183.80" width="10.50" height="2.00" rx="1.00" fill="#222" fill-opacity="0.18"/><rect x="303.00" y="186.07" width="10.50" height="2.25" rx="1.12" fill="#222" fill-opacity="0.22"/><rect x="316.22" y="186.07" width="10.50" height="2.25" rx="1.12" fill="#222" fill-opacity="0.34"/><rect x="329.44" y="186.07" width="10.50" height="2.25" rx="1.12" fill="#222" fill-opacity="0.42"/><rect x="342.66" y="186.07" width="10.50" height="2.25" rx="1.12" fill="#222" fill-opacity="0.55"/><rect x="355.88" y="186.07" width="10.50" height="2.25" rx="1.12" fill="#222" fill-opacity="0.42"/><rect x="369.10" y="186.07" width="10.50" height="2.25" rx="1.12" fill="#222" fill-opacity="0.46"/><rect x="382.32" y="186.07" width="10.50" height="2.25" rx="1.12" fill="#222" fill-opacity="0.42"/><rect x="395.54" y="186.07" width="10.50" height="2.25" rx="1.12" fill="#222" fill-opacity="0.38"/><rect x="408.76" y="186.07" width="10.50" height="2.25" rx="1.12" fill="#222" fill-opacity="0.85"/><rect x="421.98" y="186.07" width="10.50" height="2.25" rx="1.12" fill="#222" fill-opacity="0.46"/><rect x="435.20" y="186.07" width="10.50" height="2.25" rx="1.12" fill="#222" fill-opacity="0.46"/><rect x="448.42" y="186.07" width="10.50" height="2.25" rx="1.12" fill="#222" fill-opacity="0.55"/><rect x="461.64" y="186.07" width="10.50" height="2.25" rx="1.12" fill="#222" fill-opacity="0.26"/><rect x="474.86" y="186.07" width="10.50" height="2.25" rx="1.12" fill="#222" fill-opacity="0.38"/><rect x="488.08" y="186.07" width="10.50" height="2.25" rx="1.12" fill="#222" fill-opacity="0.22"/><rect x="501.30" y="186.07" width="10.50" height="2.25" rx="1.12" fill="#222" fill-opacity="0.22"/><rect x="303.00" y="189.66" width="10.50" height="1.88" rx="0.94" fill="#000" fill-opacity="0.50"/><rect x="316.22" y="189.66" width="10.50" height="1.88" rx="0.94" fill="#000" fill-opacity="0.60"/><rect x="329.44" y="189.66" width="10.50" height="1.88" rx="0.94" fill="#000" fill-opacity="0.70"/><rect x="342.66" y="189.66" width="10.50" height="1.88" rx="0.94" fill="#000" fill-opacity="0.80"/><rect x="355.88" y="189.66" width="10.50" height="1.88" rx="0.94" fill="#000" fill-opacity="0.80"/><rect x="369.10" y="189.66" width="10.50" height="1.88" rx="0.94" fill="#000" fill-opacity="0.80"/><rect x="382.32" y="189.66" width="10.50" height="1.88" rx="0.94" fill="#000" fill-opacity="0.80"/><rect x="395.54" y="189.66" width="10.50" height="1.88" rx="0.94" fill="#000" fill-opacity="0.70"/><rect x="408.76" y="189.66" width="10.50" height="1.88" rx="0.94" fill="#000" fill-opacity="0.90"/><rect x="421.98" y="189.66" width="10.50" height="1.88" rx="0.94" fill="#000" fill-opacity="0.80"/><rect x="435.20" y="189.66" width="10.50" height="1.88" rx="0.94" fill="#000" fill-opacity="0.80"/><rect x="448.42" y="189.66" width="10.50" height="1.88" rx="0.94" fill="#000" fill-opacity="0.60"/><rect x="461.64" y="189.66" width="10.50" height="1.88" rx="0.94" fill="#000" fill-opacity="0.35"/><rect x="474.86" y="189.66" width="10.50" height="1.88" rx="0.94" fill="#000" fill-opacity="0.50"/><rect x="488.08" y="189.66" width="10.50" height="1.88" rx="0.94" fill="#000" fill-opacity="0.50"/><rect x="501.30" y="189.66" width="10.50" height="1.88" rx="0.94" fill="#000" fill-opacity="0.40"/><rect x="303.00" y="182.25" width="10.50" height="7.50" rx="1.40" fill="#000" fill-opacity="0.08"/><rect x="316.22" y="182.25" width="10.50" height="7.50" rx="1.40" fill="#000" fill-opacity="0.08"/><rect x="329.44" y="182.25" width="10.50" height="7.50" rx="1.40" fill="#000" fill-opacity="0.08"/><rect x="342.66" y="182.25" width="10.50" height="7.50" rx="1.40" fill="#000" fill-opacity="0.08"/><rect x="355.88" y="182.25" width="10.50" height="7.50" rx="1.40" fill="#000" fill-opacity="0.08"/><rect x="369.10" y="182.25" width="10.50" height="7.50" rx="1.40" fill="#000" fill-opacity="0.08"/><rect x="382.32" y="182.25" width="10.50" height="7.50" rx="1.40" fill="#000" fill-opacity="0.08"/><rect x="395.54" y="182.25" width="10.50" height="7.50" rx="1.40" fill="#000" fill-opacity="0.08"/><rect x="408.76" y="182.25" width="10.50" height="7.50" rx="1.40" fill="#000" fill-opacity="0.25"/><rect x="421.98" y="182.25" width="10.50" height="7.50" rx="1.40" fill="#000" fill-opacity="0.12"/><rect x="435.20" y="182.25" width="10.50" height="7.50" rx="1.40" fill="#000" fill-opacity="0.12"/><rect x="448.42" y="182.25" width="10.50" height="7.50" rx="1.40" fill="#000" fill-opacity="0.12"/><rect x="461.64" y="182.25" width="10.50" height="7.50" rx="1.40" fill="#000" fill-opacity="0.20"/><rect x="474.86" y="182.25" width="10.50" height="7.50" rx="1.40" fill="#000" fill-opacity="0.20"/><rect x="488.08" y="182.25" width="10.50" height="7.50" rx="1.40" fill="#000" fill-opacity="0.20"/><rect x="501.30" y="182.25" width="10.50" height="7.50" rx="1.40" fill="#000" fill-opacity="0.18"/><rect x="304.25" y="202.53" width="8.00" height="1.75" rx="0.88" fill="#000" fill-opacity="0.90"/><rect x="316.97" y="202.03" width="9.00" height="2.75" rx="1.38" fill="#000" fill-opacity="1.00"/><rect x="329.69" y="201.47" width="10.00" height="3.25" rx="1.40" fill="#000" fill-opacity="1.00"/><rect x="342.41" y="200.97" width="11.00" height="3.25" rx="1.40" fill="#000" fill-opacity="1.00"/><rect x="355.63" y="201.10" width="11.00" height="3.00" rx="1.40" fill="#000" fill-opacity="1.00"/><rect x="368.85" y="200.97" width="11.00" height="3.25" rx="1.40" fill="#000" fill-opacity="1.00"/><rect x="383.07" y="201.35" width="9.00" height="2.50" rx="1.25" fill="#000" fill-opacity="0.85"/><rect x="397.29" y="202.03" width="7.00" height="1.75" rx="0.88" fill="#000" fill-opacity="0.50"/><rect x="410.01" y="201.10" width="8.00" height="2.00" rx="1.00" fill="#000" fill-opacity="0.90"/><rect x="423.23" y="201.10" width="8.00" height="2.00" rx="1.00" fill="#000" fill-opacity="0.90"/><rect x="436.45" y="201.10" width="8.00" height="2.00" rx="1.00" fill="#000" fill-opacity="0.90"/><rect x="449.17" y="201.04" width="9.00" height="2.12" rx="1.06" fill="#000" fill-opacity="0.95"/><rect x="460.39" y="201.40" width="13.00" height="4.00" rx="1.40" fill="#000" fill-opacity="1.00"/><rect x="473.36" y="201.03" width="13.50" height="4.75" rx="1.40" fill="#000" fill-opacity="1.00"/><rect x="486.58" y="201.15" width="13.50" height="4.50" rx="1.40" fill="#000" fill-opacity="1.00"/><rect x="500.55" y="201.53" width="12.00" height="3.75" rx="1.40" fill="#000" fill-opacity="1.00"/><rect x="330.69" y="204.86" width="8.00" height="1.88" rx="0.94" fill="#000" fill-opacity="0.50"/><rect x="343.91" y="204.86" width="8.00" height="1.88" rx="0.94" fill="#000" fill-opacity="0.70"/><rect x="357.13" y="204.86" width="8.00" height="1.88" rx="0.94" fill="#000" fill-opacity="0.50"/><rect x="370.35" y="204.86" width="8.00" height="1.88" rx="0.94" fill="#000" fill-opacity="0.70"/><rect x="383.57" y="204.86" width="8.00" height="1.88" rx="0.94" fill="#000" fill-opacity="0.30"/><rect x="409.76" y="204.86" width="8.50" height="1.88" rx="0.94" fill="#000" fill-opacity="0.60"/><rect x="422.98" y="204.86" width="8.50" height="1.88" rx="0.94" fill="#000" fill-opacity="0.70"/><rect x="436.20" y="204.86" width="8.50" height="1.88" rx="0.94" fill="#000" fill-opacity="0.70"/><rect x="449.17" y="204.86" width="9.00" height="1.88" rx="0.94" fill="#000" fill-opacity="0.80"/></g>
<rect x="69.5" y="61.2" width="212.89999999999998" height="23.099999999999994" fill="none" stroke="#000" stroke-width="1.75"/>
<rect x="300.7" y="61.2" width="214.40000000000003" height="23.099999999999994" fill="none" stroke="#000" stroke-width="1.75"/>
<rect x="69.5" y="88.8" width="212.89999999999998" height="23.0" fill="none" stroke="#000" stroke-width="1.75"/>
<rect x="300.7" y="88.8" width="214.40000000000003" height="23.0" fill="none" stroke="#000" stroke-width="1.75"/>
<rect x="69.5" y="116.2" width="212.89999999999998" height="22.499999999999986" fill="none" stroke="#000" stroke-width="1.75"/>
<rect x="300.7" y="116.2" width="214.40000000000003" height="22.499999999999986" fill="none" stroke="#000" stroke-width="1.75"/>
<rect x="69.5" y="143.8" width="212.89999999999998" height="22.399999999999977" fill="none" stroke="#000" stroke-width="1.75"/>
<rect x="300.7" y="143.8" width="214.40000000000003" height="22.399999999999977" fill="none" stroke="#000" stroke-width="1.75"/>
<rect x="69.5" y="170.8" width="212.89999999999998" height="22.599999999999994" fill="none" stroke="#000" stroke-width="1.75"/>
<rect x="300.7" y="170.8" width="214.40000000000003" height="22.599999999999994" fill="none" stroke="#000" stroke-width="1.75"/>
<rect x="69.5" y="197.9" width="212.89999999999998" height="10.900000000000006" fill="none" stroke="#000" stroke-width="1.75"/>
<rect x="300.7" y="197.9" width="214.40000000000003" height="10.900000000000006" fill="none" stroke="#000" stroke-width="1.75"/><defs>
<pattern id="p1" width="2" height="2" patternUnits="userSpaceOnUse"><rect width="2" height="2" fill="#262626"/><circle cx="0.5" cy="0.5" r="0.5" fill="#858585"/><circle cx="1.5" cy="1.5" r="0.5" fill="#858585"/></pattern>
<pattern id="p2" width="3.46" height="3.46" patternUnits="userSpaceOnUse"><rect width="3.46" height="3.46" fill="#000"/><circle cx="0.86" cy="0.86" r="0.98" fill="#fff"/><circle cx="2.59" cy="2.59" r="0.98" fill="#fff"/></pattern>
<pattern id="p3" width="4" height="3.0" patternUnits="userSpaceOnUse"><rect width="4" height="3" fill="#fff"/><rect y="1" width="4" height="1.1" fill="#000"/></pattern>
<pattern id="p3b" width="4" height="3.2" patternUnits="userSpaceOnUse"><rect width="4" height="3.2" fill="#fff"/><rect y="1" width="4" height="1.1" fill="#000"/></pattern>
<pattern id="p4" width="3" height="4" patternUnits="userSpaceOnUse"><rect width="3" height="4" fill="#fff"/><rect x="1" width="1" height="4" fill="#000"/></pattern>
<pattern id="p5" width="5" height="5" patternUnits="userSpaceOnUse"><rect width="5" height="5" fill="#fff"/><path d="M-10.000 5L-5.000 0M-7.500 5L-2.500 0M-5.000 5L0.000 0M-2.500 5L2.500 0M0.000 5L5.000 0M2.500 5L7.500 0M5.000 5L10.000 0M7.500 5L12.500 0M10.000 5L15.000 0M12.500 5L17.500 0" stroke="#000" stroke-width="1.05" fill="none"/></pattern>
<pattern id="p6" width="5" height="5" patternUnits="userSpaceOnUse"><rect width="5" height="5" fill="#fff"/><path d="M-10.000 0L-5.000 5M-7.500 0L-2.500 5M-5.000 0L0.000 5M-2.500 0L2.500 5M0.000 0L5.000 5M2.500 0L7.500 5M5.000 0L10.000 5M7.500 0L12.500 5M10.000 0L15.000 5M12.500 0L17.500 5" stroke="#000" stroke-width="1.05" fill="none"/></pattern>
<pattern id="p5b" width="5" height="5" patternUnits="userSpaceOnUse"><rect width="5" height="5" fill="#fff"/><path d="M-10.000 5L-5.000 0M-7.500 5L-2.500 0M-5.000 5L0.000 0M-2.500 5L2.500 0M0.000 5L5.000 0M2.500 5L7.500 0M5.000 5L10.000 0M7.500 5L12.500 0M10.000 5L15.000 0M12.500 5L17.500 0" stroke="#000" stroke-width="0.4" fill="none"/></pattern>
<pattern id="p6b" width="5" height="5" patternUnits="userSpaceOnUse"><rect width="5" height="5" fill="#fff"/><path d="M-10.000 0L-5.000 5M-7.500 0L-2.500 5M-5.000 0L0.000 5M-2.500 0L2.500 5M0.000 0L5.000 5M2.500 0L7.500 5M5.000 0L10.000 5M7.500 0L12.500 5M10.000 0L15.000 5M12.500 0L17.500 5" stroke="#000" stroke-width="0.4" fill="none"/></pattern>
<pattern id="p7" width="3" height="3" patternUnits="userSpaceOnUse"><rect width="3" height="3" fill="#fff"/><rect width="1" height="3" fill="#000"/><rect width="3" height="1" fill="#000"/></pattern>
<pattern id="p8" width="2.9" height="2.9" patternUnits="userSpaceOnUse"><rect width="2.9" height="2.9" fill="#111"/><circle cx="0.72" cy="0.72" r="0.62" fill="#eee"/><circle cx="2.17" cy="2.17" r="0.62" fill="#eee"/></pattern>
</defs>
<text x="11.60" y="241.10" font-size="18" font-weight="bold" text-anchor="end" >B</text>
<text x="12.00" y="419.30" font-size="18" font-weight="bold" text-anchor="end" >C</text>
<text x="12.00" y="596.60" font-size="18.3" font-weight="bold" text-anchor="end" >D</text>
<line x1="99.62" y1="359.31" x2="99.62" y2="360.24" stroke="#000" stroke-width="1.2"/><line x1="93.88" y1="359.31" x2="105.38" y2="359.31" stroke="#000" stroke-width="1.2"/><rect x="88.55" y="360.54" width="22.15" height="0.86" fill="#000" stroke="#000" stroke-width="1.1"/><line x1="132.88" y1="359.77" x2="132.88" y2="360.24" stroke="#000" stroke-width="1.2"/><line x1="127.12" y1="359.77" x2="138.62" y2="359.77" stroke="#000" stroke-width="1.2"/><rect x="121.80" y="360.54" width="22.15" height="0.86" fill="#000" stroke="#000" stroke-width="1.1"/><rect x="176.55" y="284.27" width="22.40" height="77.13" fill="#fff" stroke="#000" stroke-width="1.1"/><line x1="220.60" y1="324.39" x2="220.60" y2="332.13" stroke="#000" stroke-width="1.2"/><line x1="214.85" y1="324.39" x2="226.35" y2="324.39" stroke="#000" stroke-width="1.2"/><rect x="209.55" y="332.43" width="22.10" height="28.97" fill="#000" stroke="#000" stroke-width="1.1"/><line x1="72.80" y1="244.55" x2="72.80" y2="362.10" stroke="#000" stroke-width="1.5"/><line x1="72.10" y1="361.40" x2="247.50" y2="361.40" stroke="#000" stroke-width="1.5"/><line x1="69.20" y1="361.40" x2="72.80" y2="361.40" stroke="#000" stroke-width="1.2"/><text x="67.80" y="364.35" font-size="8.3" font-weight="bold" text-anchor="end" >0</text><line x1="69.20" y1="322.68" x2="72.80" y2="322.68" stroke="#000" stroke-width="1.2"/><text x="67.80" y="325.63" font-size="8.3" font-weight="bold" text-anchor="end" >50</text><line x1="69.20" y1="283.97" x2="72.80" y2="283.97" stroke="#000" stroke-width="1.2"/><text x="67.80" y="286.92" font-size="8.3" font-weight="bold" text-anchor="end" >100</text><line x1="69.20" y1="245.25" x2="72.80" y2="245.25" stroke="#000" stroke-width="1.2"/><text x="67.80" y="248.20" font-size="8.3" font-weight="bold" text-anchor="end" >150</text><text x="49.10" y="302.72" font-size="9.6" font-weight="bold" text-anchor="middle" transform="rotate(-90 49.10 302.72)" >Relative adhesion (%)</text><text x="161.00" y="237.60" font-size="11.5" font-weight="bold" text-anchor="middle" >Mino</text><text x="116.80" y="374.70" font-size="8.5" font-weight="bold" text-anchor="middle" >C</text><text x="204.00" y="374.70" font-size="8.5" font-weight="bold" text-anchor="middle" >CXCL12</text><text x="158.60" y="386.80" font-size="9.3" font-weight="bold" text-anchor="middle" >(n = 6)</text><rect x="81.95" y="249.95" width="12.40" height="5.40" fill="#fff" stroke="#000" stroke-width="1.1"/><rect x="81.95" y="263.25" width="12.40" height="5.60" fill="#000" stroke="#000" stroke-width="1.1"/><text x="101.60" y="256.00" font-size="9" font-weight="normal" text-anchor="start" textLength="26.2" lengthAdjust="spacingAndGlyphs" >DMSO</text><text x="102.00" y="269.60" font-size="9" font-weight="normal" text-anchor="start" textLength="32.6" lengthAdjust="spacingAndGlyphs" >Ibrutinib</text><text x="220.50" y="324.96" font-size="8" font-weight="bold" text-anchor="middle" style="stroke-width:0.5px">**</text>
<line x1="371.00" y1="357.82" x2="371.00" y2="359.38" stroke="#000" stroke-width="1.2"/><line x1="365.25" y1="357.82" x2="376.75" y2="357.82" stroke="#000" stroke-width="1.2"/><rect x="360.05" y="359.68" width="21.90" height="2.42" fill="#fff" stroke="#000" stroke-width="1.1"/><line x1="403.75" y1="360.93" x2="403.75" y2="361.32" stroke="#000" stroke-width="1.2"/><line x1="398.00" y1="360.93" x2="409.50" y2="360.93" stroke="#000" stroke-width="1.2"/><rect x="393.05" y="361.62" width="21.40" height="0.48" fill="#000" stroke="#000" stroke-width="1.1"/><rect x="448.15" y="284.60" width="21.90" height="77.50" fill="#fff" stroke="#000" stroke-width="1.1"/><line x1="492.10" y1="300.48" x2="492.10" y2="307.25" stroke="#000" stroke-width="1.2"/><line x1="486.35" y1="300.48" x2="497.85" y2="300.48" stroke="#000" stroke-width="1.2"/><rect x="480.75" y="307.55" width="22.70" height="54.55" fill="#000" stroke="#000" stroke-width="1.1"/><line x1="344.20" y1="244.70" x2="344.20" y2="362.80" stroke="#000" stroke-width="1.5"/><line x1="343.50" y1="362.10" x2="520.00" y2="362.10" stroke="#000" stroke-width="1.5"/><line x1="340.60" y1="362.10" x2="344.20" y2="362.10" stroke="#000" stroke-width="1.2"/><text x="339.20" y="365.05" font-size="8.3" font-weight="bold" text-anchor="end" >0</text><line x1="340.60" y1="323.20" x2="344.20" y2="323.20" stroke="#000" stroke-width="1.2"/><text x="339.20" y="326.15" font-size="8.3" font-weight="bold" text-anchor="end" >50</text><line x1="340.60" y1="284.30" x2="344.20" y2="284.30" stroke="#000" stroke-width="1.2"/><text x="339.20" y="287.25" font-size="8.3" font-weight="bold" text-anchor="end" >100</text><line x1="340.60" y1="245.40" x2="344.20" y2="245.40" stroke="#000" stroke-width="1.2"/><text x="339.20" y="248.35" font-size="8.3" font-weight="bold" text-anchor="end" >150</text><text x="320.30" y="303.15" font-size="9.6" font-weight="bold" text-anchor="middle" transform="rotate(-90 320.30 303.15)" >Relative adhesion (%)</text><text x="431.00" y="238.00" font-size="11.5" font-weight="bold" text-anchor="middle" >Jeko1</text><text x="387.50" y="375.30" font-size="8.5" font-weight="bold" text-anchor="middle" >C</text><text x="475.00" y="375.30" font-size="8.5" font-weight="bold" text-anchor="middle" >CXCL12</text><text x="429.50" y="387.20" font-size="9.3" font-weight="bold" text-anchor="middle" >(n= 4)</text><rect x="353.15" y="250.15" width="12.40" height="5.40" fill="#fff" stroke="#000" stroke-width="1.1"/><rect x="353.15" y="263.45" width="12.40" height="5.60" fill="#000" stroke="#000" stroke-width="1.1"/><text x="372.80" y="256.20" font-size="9" font-weight="normal" text-anchor="start" textLength="27.4" lengthAdjust="spacingAndGlyphs" >DMSO</text><text x="373.20" y="269.80" font-size="9" font-weight="normal" text-anchor="start" textLength="34.1" lengthAdjust="spacingAndGlyphs" >Ibrutinib</text><text x="492.00" y="300.36" font-size="8" font-weight="bold" text-anchor="middle" style="stroke-width:0.5px">*</text>
<line x1="100.12" y1="534.05" x2="100.12" y2="535.30" stroke="#000" stroke-width="1.2"/><line x1="94.38" y1="534.05" x2="105.88" y2="534.05" stroke="#000" stroke-width="1.2"/><rect x="89.05" y="535.60" width="22.15" height="2.80" fill="#fff" stroke="#000" stroke-width="1.1"/><line x1="133.10" y1="534.75" x2="133.10" y2="535.68" stroke="#000" stroke-width="1.2"/><line x1="127.35" y1="534.75" x2="138.85" y2="534.75" stroke="#000" stroke-width="1.2"/><rect x="122.05" y="535.98" width="22.10" height="2.42" fill="#000" stroke="#000" stroke-width="1.1"/><rect x="176.55" y="461.10" width="22.40" height="77.30" fill="#fff" stroke="#000" stroke-width="1.1"/><line x1="220.60" y1="505.26" x2="220.60" y2="512.79" stroke="#000" stroke-width="1.2"/><line x1="214.85" y1="505.26" x2="226.35" y2="505.26" stroke="#000" stroke-width="1.2"/><rect x="209.55" y="513.09" width="22.10" height="25.31" fill="#000" stroke="#000" stroke-width="1.1"/><line x1="72.80" y1="421.30" x2="72.80" y2="539.10" stroke="#000" stroke-width="1.5"/><line x1="72.10" y1="538.40" x2="247.50" y2="538.40" stroke="#000" stroke-width="1.5"/><line x1="69.20" y1="538.40" x2="72.80" y2="538.40" stroke="#000" stroke-width="1.2"/><text x="67.80" y="541.35" font-size="8.3" font-weight="bold" text-anchor="end" >0</text><line x1="69.20" y1="499.60" x2="72.80" y2="499.60" stroke="#000" stroke-width="1.2"/><text x="67.80" y="502.55" font-size="8.3" font-weight="bold" text-anchor="end" >50</text><line x1="69.20" y1="460.80" x2="72.80" y2="460.80" stroke="#000" stroke-width="1.2"/><text x="67.80" y="463.75" font-size="8.3" font-weight="bold" text-anchor="end" >100</text><line x1="69.20" y1="422.00" x2="72.80" y2="422.00" stroke="#000" stroke-width="1.2"/><text x="67.80" y="424.95" font-size="8.3" font-weight="bold" text-anchor="end" >150</text><text x="49.10" y="479.60" font-size="9.6" font-weight="bold" text-anchor="middle" transform="rotate(-90 49.10 479.60)" >Relative adhesion (%)</text><text x="161.00" y="414.60" font-size="11.5" font-weight="bold" text-anchor="middle" >Mino</text><text x="116.80" y="551.70" font-size="8.5" font-weight="bold" text-anchor="middle" >C</text><text x="204.30" y="551.70" font-size="8.5" font-weight="bold" text-anchor="middle" >CXCL13</text><text x="157.80" y="564.00" font-size="9.3" font-weight="bold" text-anchor="middle" >(n= 5)</text><rect x="81.95" y="426.95" width="12.40" height="5.40" fill="#fff" stroke="#000" stroke-width="1.1"/><rect x="81.95" y="440.25" width="12.40" height="5.60" fill="#000" stroke="#000" stroke-width="1.1"/><text x="101.60" y="433.00" font-size="9" font-weight="normal" text-anchor="start" textLength="26.2" lengthAdjust="spacingAndGlyphs" >DMSO</text><text x="102.00" y="446.60" font-size="9" font-weight="normal" text-anchor="start" textLength="32.6" lengthAdjust="spacingAndGlyphs" >Ibrutinib</text><text x="220.50" y="505.56" font-size="8" font-weight="bold" text-anchor="middle" style="stroke-width:0.5px">**</text>
<line x1="371.00" y1="531.80" x2="371.00" y2="534.91" stroke="#000" stroke-width="1.2"/><line x1="365.25" y1="531.80" x2="376.75" y2="531.80" stroke="#000" stroke-width="1.2"/><rect x="360.05" y="535.21" width="21.90" height="3.59" fill="#fff" stroke="#000" stroke-width="1.1"/><line x1="403.75" y1="537.63" x2="403.75" y2="538.02" stroke="#000" stroke-width="1.2"/><line x1="398.00" y1="537.63" x2="409.50" y2="537.63" stroke="#000" stroke-width="1.2"/><rect x="393.05" y="538.32" width="21.40" height="0.48" fill="#000" stroke="#000" stroke-width="1.1"/><rect x="448.15" y="461.37" width="21.90" height="77.43" fill="#fff" stroke="#000" stroke-width="1.1"/><line x1="492.10" y1="479.88" x2="492.10" y2="482.83" stroke="#000" stroke-width="1.2"/><line x1="486.35" y1="479.88" x2="497.85" y2="479.88" stroke="#000" stroke-width="1.2"/><rect x="480.75" y="483.13" width="22.70" height="55.67" fill="#000" stroke="#000" stroke-width="1.1"/><line x1="344.20" y1="421.50" x2="344.20" y2="539.50" stroke="#000" stroke-width="1.5"/><line x1="343.50" y1="538.80" x2="520.00" y2="538.80" stroke="#000" stroke-width="1.5"/><line x1="340.60" y1="538.80" x2="344.20" y2="538.80" stroke="#000" stroke-width="1.2"/><text x="339.20" y="541.75" font-size="8.3" font-weight="bold" text-anchor="end" >0</text><line x1="340.60" y1="499.93" x2="344.20" y2="499.93" stroke="#000" stroke-width="1.2"/><text x="339.20" y="502.88" font-size="8.3" font-weight="bold" text-anchor="end" >50</text><line x1="340.60" y1="461.07" x2="344.20" y2="461.07" stroke="#000" stroke-width="1.2"/><text x="339.20" y="464.02" font-size="8.3" font-weight="bold" text-anchor="end" >100</text><line x1="340.60" y1="422.20" x2="344.20" y2="422.20" stroke="#000" stroke-width="1.2"/><text x="339.20" y="425.15" font-size="8.3" font-weight="bold" text-anchor="end" >150</text><text x="320.30" y="479.90" font-size="9.6" font-weight="bold" text-anchor="middle" transform="rotate(-90 320.30 479.90)" >Relative adhesion (%)</text><text x="431.00" y="414.80" font-size="11.5" font-weight="bold" text-anchor="middle" >Jeko1</text><text x="387.50" y="552.10" font-size="8.5" font-weight="bold" text-anchor="middle" >C</text><text x="475.50" y="552.00" font-size="8.5" font-weight="bold" text-anchor="middle" >CXCL13</text><text x="430.00" y="564.40" font-size="9.3" font-weight="bold" text-anchor="middle" >(n= 5)</text><rect x="353.15" y="427.15" width="12.40" height="5.40" fill="#fff" stroke="#000" stroke-width="1.1"/><rect x="353.15" y="440.45" width="12.40" height="5.60" fill="#000" stroke="#000" stroke-width="1.1"/><text x="372.80" y="433.20" font-size="9" font-weight="normal" text-anchor="start" textLength="27.4" lengthAdjust="spacingAndGlyphs" >DMSO</text><text x="373.20" y="446.80" font-size="9" font-weight="normal" text-anchor="start" textLength="34.1" lengthAdjust="spacingAndGlyphs" >Ibrutinib</text><text x="492.00" y="480.36" font-size="8" font-weight="bold" text-anchor="middle" style="stroke-width:0.5px">**</text>
<line x1="83.90" y1="695.11" x2="83.90" y2="695.87" stroke="#000" stroke-width="1.15"/><line x1="80.15" y1="695.11" x2="87.65" y2="695.11" stroke="#000" stroke-width="1.15"/><rect x="76.65" y="696.17" width="14.50" height="15.33" fill="url(#p1)" stroke="#000" stroke-width="1.15"/><line x1="83.90" y1="711.50" x2="83.90" y2="715.10" stroke="#000" stroke-width="1.2"/><line x1="105.23" y1="606.04" x2="105.23" y2="616.75" stroke="#000" stroke-width="1.15"/><line x1="101.48" y1="606.04" x2="108.98" y2="606.04" stroke="#000" stroke-width="1.15"/><rect x="97.98" y="617.05" width="14.50" height="94.45" fill="url(#p2)" stroke="#000" stroke-width="1.15"/><line x1="105.23" y1="711.50" x2="105.23" y2="715.10" stroke="#000" stroke-width="1.2"/><line x1="126.56" y1="629.45" x2="126.56" y2="632.10" stroke="#000" stroke-width="1.15"/><line x1="122.81" y1="629.45" x2="130.31" y2="629.45" stroke="#000" stroke-width="1.15"/><rect x="119.31" y="632.40" width="14.50" height="79.10" fill="url(#p3)" stroke="#000" stroke-width="1.15"/><line x1="126.56" y1="711.50" x2="126.56" y2="715.10" stroke="#000" stroke-width="1.2"/><line x1="147.89" y1="651.33" x2="147.89" y2="656.36" stroke="#000" stroke-width="1.15"/><line x1="144.14" y1="651.33" x2="151.64" y2="651.33" stroke="#000" stroke-width="1.15"/><rect x="140.64" y="656.66" width="14.50" height="54.84" fill="#fff" stroke="#000" stroke-width="1.15"/><line x1="143.54" y1="656.66" x2="143.54" y2="711.50" stroke="#000" stroke-width="1.05"/><line x1="146.44" y1="656.66" x2="146.44" y2="711.50" stroke="#000" stroke-width="1.05"/><line x1="149.34" y1="656.66" x2="149.34" y2="711.50" stroke="#000" stroke-width="1.05"/><line x1="152.24" y1="656.66" x2="152.24" y2="711.50" stroke="#000" stroke-width="1.05"/><line x1="147.89" y1="711.50" x2="147.89" y2="715.10" stroke="#000" stroke-width="1.2"/><line x1="169.22" y1="673.41" x2="169.22" y2="673.88" stroke="#000" stroke-width="1.15"/><line x1="165.47" y1="673.41" x2="172.97" y2="673.41" stroke="#000" stroke-width="1.15"/><rect x="161.97" y="674.18" width="14.50" height="37.32" fill="url(#p5)" stroke="#000" stroke-width="1.15"/><line x1="169.22" y1="711.50" x2="169.22" y2="715.10" stroke="#000" stroke-width="1.2"/><line x1="190.55" y1="681.09" x2="190.55" y2="681.46" stroke="#000" stroke-width="1.15"/><line x1="186.80" y1="681.09" x2="194.30" y2="681.09" stroke="#000" stroke-width="1.15"/><rect x="183.30" y="681.76" width="14.50" height="29.74" fill="url(#p6)" stroke="#000" stroke-width="1.15"/><line x1="190.55" y1="711.50" x2="190.55" y2="715.10" stroke="#000" stroke-width="1.2"/><line x1="211.88" y1="680.99" x2="211.88" y2="681.94" stroke="#000" stroke-width="1.15"/><line x1="208.13" y1="680.99" x2="215.63" y2="680.99" stroke="#000" stroke-width="1.15"/><rect x="204.63" y="682.24" width="14.50" height="29.26" fill="url(#p7)" stroke="#000" stroke-width="1.15"/><line x1="211.88" y1="711.50" x2="211.88" y2="715.10" stroke="#000" stroke-width="1.2"/><line x1="233.21" y1="687.24" x2="233.21" y2="688.19" stroke="#000" stroke-width="1.15"/><line x1="229.46" y1="687.24" x2="236.96" y2="687.24" stroke="#000" stroke-width="1.15"/><rect x="225.96" y="688.49" width="14.50" height="23.01" fill="url(#p8)" stroke="#000" stroke-width="1.15"/><line x1="233.21" y1="711.50" x2="233.21" y2="715.10" stroke="#000" stroke-width="1.2"/><line x1="73.00" y1="597.10" x2="73.00" y2="712.20" stroke="#000" stroke-width="1.5"/><line x1="72.30" y1="711.50" x2="245.00" y2="711.50" stroke="#000" stroke-width="1.5"/><line x1="69.20" y1="711.50" x2="73.00" y2="711.50" stroke="#000" stroke-width="1.2"/><text x="69.10" y="714.60" font-size="8.5" font-weight="bold" text-anchor="end" >0</text><line x1="69.20" y1="702.02" x2="73.00" y2="702.02" stroke="#000" stroke-width="1.2"/><text x="69.10" y="705.12" font-size="8.5" font-weight="bold" text-anchor="end" >10</text><line x1="69.20" y1="692.55" x2="73.00" y2="692.55" stroke="#000" stroke-width="1.2"/><text x="69.10" y="695.65" font-size="8.5" font-weight="bold" text-anchor="end" >20</text><line x1="69.20" y1="683.08" x2="73.00" y2="683.08" stroke="#000" stroke-width="1.2"/><text x="69.10" y="686.18" font-size="8.5" font-weight="bold" text-anchor="end" >30</text><line x1="69.20" y1="673.60" x2="73.00" y2="673.60" stroke="#000" stroke-width="1.2"/><text x="69.10" y="676.70" font-size="8.5" font-weight="bold" text-anchor="end" >40</text><line x1="69.20" y1="664.12" x2="73.00" y2="664.12" stroke="#000" stroke-width="1.2"/><text x="69.10" y="667.23" font-size="8.5" font-weight="bold" text-anchor="end" >50</text><line x1="69.20" y1="654.65" x2="73.00" y2="654.65" stroke="#000" stroke-width="1.2"/><text x="69.10" y="657.75" font-size="8.5" font-weight="bold" text-anchor="end" >60</text><line x1="69.20" y1="645.17" x2="73.00" y2="645.17" stroke="#000" stroke-width="1.2"/><text x="69.10" y="648.27" font-size="8.5" font-weight="bold" text-anchor="end" >70</text><line x1="69.20" y1="635.70" x2="73.00" y2="635.70" stroke="#000" stroke-width="1.2"/><text x="69.10" y="638.80" font-size="8.5" font-weight="bold" text-anchor="end" >80</text><line x1="69.20" y1="626.22" x2="73.00" y2="626.22" stroke="#000" stroke-width="1.2"/><text x="69.10" y="629.32" font-size="8.5" font-weight="bold" text-anchor="end" >90</text><line x1="69.20" y1="616.75" x2="73.00" y2="616.75" stroke="#000" stroke-width="1.2"/><text x="69.10" y="619.85" font-size="8.5" font-weight="bold" text-anchor="end" >100</text><line x1="69.20" y1="607.27" x2="73.00" y2="607.27" stroke="#000" stroke-width="1.2"/><text x="69.10" y="610.38" font-size="8.5" font-weight="bold" text-anchor="end" >110</text><line x1="69.20" y1="597.80" x2="73.00" y2="597.80" stroke="#000" stroke-width="1.2"/><text x="69.10" y="600.90" font-size="8.5" font-weight="bold" text-anchor="end" >120</text><text x="38.80" y="655.35" font-size="8.8" font-weight="bold" text-anchor="middle" transform="rotate(-90 38.80 655.35)" >% Cell Migration</text><text x="50.10" y="654.05" font-size="8.9" font-weight="bold" text-anchor="middle" transform="rotate(-90 50.10 654.05)" >(normalized)</text><text x="158.30" y="592.70" font-size="11.3" font-weight="bold" text-anchor="middle" >CXCL12</text><text x="85.00" y="721.80" font-size="8.5" font-weight="bold" text-anchor="end" transform="rotate(-45 85.00 721.80)" class="hb">- CXCL12</text><text x="106.33" y="721.80" font-size="8.5" font-weight="bold" text-anchor="end" transform="rotate(-45 106.33 721.80)" class="hb">+ CXCL12</text><text x="127.66" y="721.80" font-size="8.5" font-weight="bold" text-anchor="end" transform="rotate(-45 127.66 721.80)" class="hb">DMSO</text><text x="148.99" y="721.80" font-size="8.5" font-weight="bold" text-anchor="end" transform="rotate(-45 148.99 721.80)" class="hb">0.0001 µM</text><text x="170.32" y="721.80" font-size="8.5" font-weight="bold" text-anchor="end" transform="rotate(-45 170.32 721.80)" class="hb">0.001 µM</text><text x="191.65" y="721.80" font-size="8.5" font-weight="bold" text-anchor="end" transform="rotate(-45 191.65 721.80)" class="hb">0.01 µM</text><text x="212.98" y="721.80" font-size="8.5" font-weight="bold" text-anchor="end" transform="rotate(-45 212.98 721.80)" class="hb">0.1 µM</text><text x="234.31" y="721.80" font-size="8.5" font-weight="bold" text-anchor="end" transform="rotate(-45 234.31 721.80)" class="hb">1 µM</text><text x="147.00" y="648.85" font-size="10" font-weight="bold" text-anchor="middle" style="stroke-width:0.8px">*</text><text x="168.30" y="648.15" font-size="10" font-weight="bold" text-anchor="middle" style="stroke-width:0.8px">*</text><text x="168.30" y="660.15" font-size="10" font-weight="bold" text-anchor="middle" style="stroke-width:0.8px">*</text><text x="168.30" y="672.35" font-size="10" font-weight="bold" text-anchor="middle" style="stroke-width:0.8px">*</text><text x="190.30" y="657.65" font-size="10" font-weight="bold" text-anchor="middle" style="stroke-width:0.8px">*</text><text x="190.30" y="669.35" font-size="10" font-weight="bold" text-anchor="middle" style="stroke-width:0.8px">*</text><text x="190.30" y="681.35" font-size="10" font-weight="bold" text-anchor="middle" style="stroke-width:0.8px">*</text><text x="210.80" y="655.65" font-size="10" font-weight="bold" text-anchor="middle" style="stroke-width:0.8px">*</text><text x="210.80" y="667.65" font-size="10" font-weight="bold" text-anchor="middle" style="stroke-width:0.8px">*</text><text x="210.80" y="679.65" font-size="10" font-weight="bold" text-anchor="middle" style="stroke-width:0.8px">*</text><text x="231.30" y="661.85" font-size="10" font-weight="bold" text-anchor="middle" style="stroke-width:0.8px">*</text><text x="231.30" y="673.85" font-size="10" font-weight="bold" text-anchor="middle" style="stroke-width:0.8px">*</text><text x="231.30" y="686.35" font-size="10" font-weight="bold" text-anchor="middle" style="stroke-width:0.8px">*</text>
<line x1="355.70" y1="699.42" x2="355.70" y2="700.17" stroke="#000" stroke-width="1.15"/><line x1="351.95" y1="699.42" x2="359.45" y2="699.42" stroke="#000" stroke-width="1.15"/><rect x="348.45" y="700.47" width="14.50" height="11.08" fill="url(#p1)" stroke="#000" stroke-width="1.15"/><line x1="355.70" y1="711.55" x2="355.70" y2="715.15" stroke="#000" stroke-width="1.2"/><line x1="377.07" y1="600.64" x2="377.07" y2="616.76" stroke="#000" stroke-width="1.15"/><line x1="373.32" y1="600.64" x2="380.82" y2="600.64" stroke="#000" stroke-width="1.15"/><rect x="369.82" y="617.06" width="14.50" height="94.49" fill="url(#p2)" stroke="#000" stroke-width="1.15"/><line x1="377.07" y1="711.55" x2="377.07" y2="715.15" stroke="#000" stroke-width="1.2"/><line x1="398.44" y1="622.73" x2="398.44" y2="625.57" stroke="#000" stroke-width="1.15"/><line x1="394.69" y1="622.73" x2="402.19" y2="622.73" stroke="#000" stroke-width="1.15"/><rect x="391.19" y="625.87" width="14.50" height="85.68" fill="url(#p3)" stroke="#000" stroke-width="1.15"/><line x1="398.44" y1="711.55" x2="398.44" y2="715.15" stroke="#000" stroke-width="1.2"/><line x1="419.81" y1="652.02" x2="419.81" y2="656.76" stroke="#000" stroke-width="1.15"/><line x1="416.06" y1="652.02" x2="423.56" y2="652.02" stroke="#000" stroke-width="1.15"/><rect x="412.56" y="657.06" width="14.50" height="54.49" fill="#fff" stroke="#000" stroke-width="1.15"/><line x1="415.46" y1="657.06" x2="415.46" y2="711.55" stroke="#000" stroke-width="1.05"/><line x1="418.36" y1="657.06" x2="418.36" y2="711.55" stroke="#000" stroke-width="1.05"/><line x1="421.26" y1="657.06" x2="421.26" y2="711.55" stroke="#000" stroke-width="1.05"/><line x1="424.16" y1="657.06" x2="424.16" y2="711.55" stroke="#000" stroke-width="1.05"/><line x1="419.81" y1="711.55" x2="419.81" y2="715.15" stroke="#000" stroke-width="1.2"/><line x1="441.18" y1="668.70" x2="441.18" y2="673.25" stroke="#000" stroke-width="1.15"/><line x1="437.43" y1="668.70" x2="444.93" y2="668.70" stroke="#000" stroke-width="1.15"/><rect x="433.93" y="673.55" width="14.50" height="38.00" fill="url(#p5)" stroke="#000" stroke-width="1.15"/><line x1="441.18" y1="711.55" x2="441.18" y2="715.15" stroke="#000" stroke-width="1.2"/><line x1="462.55" y1="685.58" x2="462.55" y2="686.05" stroke="#000" stroke-width="1.15"/><line x1="458.80" y1="685.58" x2="466.30" y2="685.58" stroke="#000" stroke-width="1.15"/><rect x="455.30" y="686.35" width="14.50" height="25.20" fill="url(#p6)" stroke="#000" stroke-width="1.15"/><line x1="462.55" y1="711.55" x2="462.55" y2="715.15" stroke="#000" stroke-width="1.2"/><line x1="483.92" y1="687.47" x2="483.92" y2="687.85" stroke="#000" stroke-width="1.15"/><line x1="480.17" y1="687.47" x2="487.67" y2="687.47" stroke="#000" stroke-width="1.15"/><rect x="476.67" y="688.15" width="14.50" height="23.40" fill="url(#p7)" stroke="#000" stroke-width="1.15"/><line x1="483.92" y1="711.55" x2="483.92" y2="715.15" stroke="#000" stroke-width="1.2"/><line x1="505.29" y1="689.18" x2="505.29" y2="689.94" stroke="#000" stroke-width="1.15"/><line x1="501.54" y1="689.18" x2="509.04" y2="689.18" stroke="#000" stroke-width="1.15"/><rect x="498.04" y="690.24" width="14.50" height="21.31" fill="url(#p8)" stroke="#000" stroke-width="1.15"/><line x1="505.29" y1="711.55" x2="505.29" y2="715.15" stroke="#000" stroke-width="1.2"/><line x1="344.90" y1="597.10" x2="344.90" y2="712.25" stroke="#000" stroke-width="1.5"/><line x1="344.20" y1="711.55" x2="515.40" y2="711.55" stroke="#000" stroke-width="1.5"/><line x1="341.10" y1="711.55" x2="344.90" y2="711.55" stroke="#000" stroke-width="1.2"/><text x="341.00" y="714.65" font-size="8.5" font-weight="bold" text-anchor="end" >0</text><line x1="341.10" y1="702.07" x2="344.90" y2="702.07" stroke="#000" stroke-width="1.2"/><text x="341.00" y="705.17" font-size="8.5" font-weight="bold" text-anchor="end" >10</text><line x1="341.10" y1="692.59" x2="344.90" y2="692.59" stroke="#000" stroke-width="1.2"/><text x="341.00" y="695.69" font-size="8.5" font-weight="bold" text-anchor="end" >20</text><line x1="341.10" y1="683.11" x2="344.90" y2="683.11" stroke="#000" stroke-width="1.2"/><text x="341.00" y="686.21" font-size="8.5" font-weight="bold" text-anchor="end" >30</text><line x1="341.10" y1="673.63" x2="344.90" y2="673.63" stroke="#000" stroke-width="1.2"/><text x="341.00" y="676.73" font-size="8.5" font-weight="bold" text-anchor="end" >40</text><line x1="341.10" y1="664.15" x2="344.90" y2="664.15" stroke="#000" stroke-width="1.2"/><text x="341.00" y="667.25" font-size="8.5" font-weight="bold" text-anchor="end" >50</text><line x1="341.10" y1="654.67" x2="344.90" y2="654.67" stroke="#000" stroke-width="1.2"/><text x="341.00" y="657.77" font-size="8.5" font-weight="bold" text-anchor="end" >60</text><line x1="341.10" y1="645.20" x2="344.90" y2="645.20" stroke="#000" stroke-width="1.2"/><text x="341.00" y="648.30" font-size="8.5" font-weight="bold" text-anchor="end" >70</text><line x1="341.10" y1="635.72" x2="344.90" y2="635.72" stroke="#000" stroke-width="1.2"/><text x="341.00" y="638.82" font-size="8.5" font-weight="bold" text-anchor="end" >80</text><line x1="341.10" y1="626.24" x2="344.90" y2="626.24" stroke="#000" stroke-width="1.2"/><text x="341.00" y="629.34" font-size="8.5" font-weight="bold" text-anchor="end" >90</text><line x1="341.10" y1="616.76" x2="344.90" y2="616.76" stroke="#000" stroke-width="1.2"/><text x="341.00" y="619.86" font-size="8.5" font-weight="bold" text-anchor="end" >100</text><line x1="341.10" y1="607.28" x2="344.90" y2="607.28" stroke="#000" stroke-width="1.2"/><text x="341.00" y="610.38" font-size="8.5" font-weight="bold" text-anchor="end" >110</text><line x1="341.10" y1="597.80" x2="344.90" y2="597.80" stroke="#000" stroke-width="1.2"/><text x="341.00" y="600.90" font-size="8.5" font-weight="bold" text-anchor="end" >120</text><text x="310.50" y="655.38" font-size="8.8" font-weight="bold" text-anchor="middle" transform="rotate(-90 310.50 655.38)" >% Cell Migration</text><text x="321.80" y="654.07" font-size="8.9" font-weight="bold" text-anchor="middle" transform="rotate(-90 321.80 654.07)" >(normalized)</text><text x="430.00" y="592.50" font-size="11.3" font-weight="bold" text-anchor="middle" >CXCL13</text><text x="356.80" y="721.85" font-size="8.5" font-weight="bold" text-anchor="end" transform="rotate(-45 356.80 721.85)" class="hb">- CXCL13</text><text x="378.17" y="721.85" font-size="8.5" font-weight="bold" text-anchor="end" transform="rotate(-45 378.17 721.85)" class="hb">+ CXCL13</text><text x="399.54" y="721.85" font-size="8.5" font-weight="bold" text-anchor="end" transform="rotate(-45 399.54 721.85)" class="hb">DMSO</text><text x="420.91" y="721.85" font-size="8.5" font-weight="bold" text-anchor="end" transform="rotate(-45 420.91 721.85)" class="hb">0.0001 µM</text><text x="442.28" y="721.85" font-size="8.5" font-weight="bold" text-anchor="end" transform="rotate(-45 442.28 721.85)" class="hb">0.001µM</text><text x="463.65" y="721.85" font-size="8.5" font-weight="bold" text-anchor="end" transform="rotate(-45 463.65 721.85)" class="hb">0.01 µM</text><text x="485.02" y="721.85" font-size="8.5" font-weight="bold" text-anchor="end" transform="rotate(-45 485.02 721.85)" class="hb">0.1µM</text><text x="506.39" y="721.85" font-size="8.5" font-weight="bold" text-anchor="end" transform="rotate(-45 506.39 721.85)" class="hb">1 µM</text><text x="440.40" y="654.15" font-size="10" font-weight="bold" text-anchor="middle" style="stroke-width:0.8px">*</text><text x="440.40" y="666.75" font-size="10" font-weight="bold" text-anchor="middle" style="stroke-width:0.8px">*</text><text x="461.20" y="658.35" font-size="10" font-weight="bold" text-anchor="middle" style="stroke-width:0.8px">*</text><text x="461.20" y="671.75" font-size="10" font-weight="bold" text-anchor="middle" style="stroke-width:0.8px">*</text><text x="461.20" y="684.55" font-size="10" font-weight="bold" text-anchor="middle" style="stroke-width:0.8px">*</text><text x="482.00" y="658.35" font-size="10" font-weight="bold" text-anchor="middle" style="stroke-width:0.8px">*</text><text x="482.00" y="671.75" font-size="10" font-weight="bold" text-anchor="middle" style="stroke-width:0.8px">*</text><text x="482.00" y="684.55" font-size="10" font-weight="bold" text-anchor="middle" style="stroke-width:0.8px">*</text><text x="504.30" y="658.95" font-size="10" font-weight="bold" text-anchor="middle" style="stroke-width:0.8px">*</text><text x="504.30" y="672.05" font-size="10" font-weight="bold" text-anchor="middle" style="stroke-width:0.8px">*</text><text x="504.30" y="685.15" font-size="10" font-weight="bold" text-anchor="middle" style="stroke-width:0.8px">*</text>
<line x1="84.50" y1="867.86" x2="84.50" y2="868.40" stroke="#000" stroke-width="1.15"/><line x1="80.75" y1="867.86" x2="88.25" y2="867.86" stroke="#000" stroke-width="1.15"/><rect x="76.75" y="868.70" width="15.50" height="14.90" fill="url(#p1)" stroke="#000" stroke-width="1.15"/><line x1="84.50" y1="883.60" x2="84.50" y2="887.20" stroke="#000" stroke-width="1.2"/><line x1="107.70" y1="790.60" x2="107.70" y2="792.60" stroke="#000" stroke-width="1.15"/><line x1="103.95" y1="790.60" x2="111.45" y2="790.60" stroke="#000" stroke-width="1.15"/><rect x="99.95" y="792.90" width="15.50" height="90.70" fill="url(#p2)" stroke="#000" stroke-width="1.15"/><line x1="107.70" y1="883.60" x2="107.70" y2="887.20" stroke="#000" stroke-width="1.2"/><line x1="130.90" y1="827.73" x2="130.90" y2="831.91" stroke="#000" stroke-width="1.15"/><line x1="127.15" y1="827.73" x2="134.65" y2="827.73" stroke="#000" stroke-width="1.15"/><rect x="123.15" y="832.21" width="15.50" height="51.39" fill="url(#p3b)" stroke="#000" stroke-width="1.15"/><line x1="130.90" y1="883.60" x2="130.90" y2="887.20" stroke="#000" stroke-width="1.2"/><rect x="146.35" y="839.31" width="15.50" height="44.29" fill="#fff" stroke="#000" stroke-width="1.15"/><line x1="149.45" y1="839.31" x2="149.45" y2="883.60" stroke="#000" stroke-width="1.05"/><line x1="152.55" y1="839.31" x2="152.55" y2="883.60" stroke="#000" stroke-width="1.05"/><line x1="155.65" y1="839.31" x2="155.65" y2="883.60" stroke="#000" stroke-width="1.05"/><line x1="158.75" y1="839.31" x2="158.75" y2="883.60" stroke="#000" stroke-width="1.05"/><line x1="154.10" y1="883.60" x2="154.10" y2="887.20" stroke="#000" stroke-width="1.2"/><line x1="177.30" y1="855.12" x2="177.30" y2="855.39" stroke="#000" stroke-width="1.15"/><line x1="173.55" y1="855.12" x2="181.05" y2="855.12" stroke="#000" stroke-width="1.15"/><rect x="169.55" y="855.69" width="15.50" height="27.91" fill="url(#p5b)" stroke="#000" stroke-width="1.15"/><line x1="177.30" y1="883.60" x2="177.30" y2="887.20" stroke="#000" stroke-width="1.2"/><line x1="200.50" y1="858.12" x2="200.50" y2="859.94" stroke="#000" stroke-width="1.15"/><line x1="196.75" y1="858.12" x2="204.25" y2="858.12" stroke="#000" stroke-width="1.15"/><rect x="192.75" y="860.24" width="15.50" height="23.36" fill="url(#p6b)" stroke="#000" stroke-width="1.15"/><line x1="200.50" y1="883.60" x2="200.50" y2="887.20" stroke="#000" stroke-width="1.2"/><line x1="223.70" y1="854.30" x2="223.70" y2="861.31" stroke="#000" stroke-width="1.15"/><line x1="219.95" y1="854.30" x2="227.45" y2="854.30" stroke="#000" stroke-width="1.15"/><rect x="215.95" y="861.61" width="15.50" height="22.00" fill="url(#p7)" stroke="#000" stroke-width="1.15"/><line x1="223.70" y1="883.60" x2="223.70" y2="887.20" stroke="#000" stroke-width="1.2"/><line x1="72.90" y1="773.70" x2="72.90" y2="884.30" stroke="#000" stroke-width="1.5"/><line x1="72.20" y1="883.60" x2="237.00" y2="883.60" stroke="#000" stroke-width="1.5"/><line x1="69.10" y1="883.60" x2="72.90" y2="883.60" stroke="#000" stroke-width="1.2"/><text x="69.00" y="886.70" font-size="8.5" font-weight="bold" text-anchor="end" >0</text><line x1="69.10" y1="865.40" x2="72.90" y2="865.40" stroke="#000" stroke-width="1.2"/><text x="69.00" y="868.50" font-size="8.5" font-weight="bold" text-anchor="end" >20</text><line x1="69.10" y1="847.20" x2="72.90" y2="847.20" stroke="#000" stroke-width="1.2"/><text x="69.00" y="850.30" font-size="8.5" font-weight="bold" text-anchor="end" >40</text><line x1="69.10" y1="829.00" x2="72.90" y2="829.00" stroke="#000" stroke-width="1.2"/><text x="69.00" y="832.10" font-size="8.5" font-weight="bold" text-anchor="end" >60</text><line x1="69.10" y1="810.80" x2="72.90" y2="810.80" stroke="#000" stroke-width="1.2"/><text x="69.00" y="813.90" font-size="8.5" font-weight="bold" text-anchor="end" >80</text><line x1="69.10" y1="792.60" x2="72.90" y2="792.60" stroke="#000" stroke-width="1.2"/><text x="69.00" y="795.70" font-size="8.5" font-weight="bold" text-anchor="end" >100</text><line x1="69.10" y1="774.40" x2="72.90" y2="774.40" stroke="#000" stroke-width="1.2"/><text x="69.00" y="777.50" font-size="8.5" font-weight="bold" text-anchor="end" >120</text><text x="38.80" y="829.70" font-size="8.8" font-weight="bold" text-anchor="middle" transform="rotate(-90 38.80 829.70)" >% Cell Migration</text><text x="50.10" y="828.40" font-size="8.9" font-weight="bold" text-anchor="middle" transform="rotate(-90 50.10 828.40)" >(normalized)</text><text x="153.50" y="770.70" font-size="11.3" font-weight="bold" text-anchor="middle" >JeKo1</text><text x="85.60" y="893.90" font-size="8.0" font-weight="bold" text-anchor="end" transform="rotate(-45 85.60 893.90)" class="hb">Vehicle- CXCL12</text><text x="108.80" y="893.90" font-size="8.0" font-weight="bold" text-anchor="end" transform="rotate(-45 108.80 893.90)" class="hb">Vehicle + CXCL12</text><text x="132.00" y="893.90" font-size="8.0" font-weight="bold" text-anchor="end" transform="rotate(-45 132.00 893.90)" class="hb">0.0001 µM</text><text x="155.20" y="893.90" font-size="8.0" font-weight="bold" text-anchor="end" transform="rotate(-45 155.20 893.90)" class="hb">0.001 µM</text><text x="178.40" y="893.90" font-size="8.0" font-weight="bold" text-anchor="end" transform="rotate(-45 178.40 893.90)" class="hb">0.01 µM</text><text x="201.60" y="893.90" font-size="8.0" font-weight="bold" text-anchor="end" transform="rotate(-45 201.60 893.90)" class="hb">0.1 µM</text><text x="224.80" y="893.90" font-size="8.0" font-weight="bold" text-anchor="end" transform="rotate(-45 224.80 893.90)" class="hb">1µM</text><text x="128.80" y="795.15" font-size="10" font-weight="bold" text-anchor="middle" style="stroke-width:0.8px">*</text><text x="128.80" y="808.05" font-size="10" font-weight="bold" text-anchor="middle" style="stroke-width:0.8px">*</text><text x="128.80" y="820.85" font-size="10" font-weight="bold" text-anchor="middle" style="stroke-width:0.8px">*</text><text x="154.30" y="806.85" font-size="10" font-weight="bold" text-anchor="middle" style="stroke-width:0.8px">*</text><text x="154.30" y="819.35" font-size="10" font-weight="bold" text-anchor="middle" style="stroke-width:0.8px">*</text><text x="154.30" y="832.15" font-size="10" font-weight="bold" text-anchor="middle" style="stroke-width:0.8px">*</text><text x="176.80" y="823.35" font-size="10" font-weight="bold" text-anchor="middle" style="stroke-width:0.8px">*</text><text x="176.80" y="835.95" font-size="10" font-weight="bold" text-anchor="middle" style="stroke-width:0.8px">*</text><text x="176.80" y="848.85" font-size="10" font-weight="bold" text-anchor="middle" style="stroke-width:0.8px">*</text><text x="200.80" y="826.35" font-size="10" font-weight="bold" text-anchor="middle" style="stroke-width:0.8px">*</text><text x="200.80" y="838.85" font-size="10" font-weight="bold" text-anchor="middle" style="stroke-width:0.8px">*</text><text x="200.80" y="851.65" font-size="10" font-weight="bold" text-anchor="middle" style="stroke-width:0.8px">*</text><text x="223.00" y="821.85" font-size="10" font-weight="bold" text-anchor="middle" style="stroke-width:0.8px">*</text><text x="223.00" y="834.55" font-size="10" font-weight="bold" text-anchor="middle" style="stroke-width:0.8px">*</text><text x="223.00" y="847.05" font-size="10" font-weight="bold" text-anchor="middle" style="stroke-width:0.8px">*</text>
<line x1="356.60" y1="840.38" x2="356.60" y2="842.92" stroke="#000" stroke-width="1.15"/><line x1="352.85" y1="840.38" x2="360.35" y2="840.38" stroke="#000" stroke-width="1.15"/><rect x="348.85" y="843.22" width="15.50" height="40.38" fill="url(#p1)" stroke="#000" stroke-width="1.15"/><line x1="356.60" y1="883.60" x2="356.60" y2="887.20" stroke="#000" stroke-width="1.2"/><line x1="379.80" y1="780.13" x2="379.80" y2="792.60" stroke="#000" stroke-width="1.15"/><line x1="376.05" y1="780.13" x2="383.55" y2="780.13" stroke="#000" stroke-width="1.15"/><rect x="372.05" y="792.90" width="15.50" height="90.70" fill="url(#p2)" stroke="#000" stroke-width="1.15"/><line x1="379.80" y1="883.60" x2="379.80" y2="887.20" stroke="#000" stroke-width="1.2"/><line x1="403.00" y1="794.69" x2="403.00" y2="818.08" stroke="#000" stroke-width="1.15"/><line x1="399.25" y1="794.69" x2="406.75" y2="794.69" stroke="#000" stroke-width="1.15"/><rect x="395.25" y="818.38" width="15.50" height="65.22" fill="url(#p3b)" stroke="#000" stroke-width="1.15"/><line x1="403.00" y1="883.60" x2="403.00" y2="887.20" stroke="#000" stroke-width="1.2"/><line x1="426.20" y1="821.08" x2="426.20" y2="836.55" stroke="#000" stroke-width="1.15"/><line x1="422.45" y1="821.08" x2="429.95" y2="821.08" stroke="#000" stroke-width="1.15"/><rect x="418.45" y="836.85" width="15.50" height="46.75" fill="#fff" stroke="#000" stroke-width="1.15"/><line x1="421.55" y1="836.85" x2="421.55" y2="883.60" stroke="#000" stroke-width="1.05"/><line x1="424.65" y1="836.85" x2="424.65" y2="883.60" stroke="#000" stroke-width="1.05"/><line x1="427.75" y1="836.85" x2="427.75" y2="883.60" stroke="#000" stroke-width="1.05"/><line x1="430.85" y1="836.85" x2="430.85" y2="883.60" stroke="#000" stroke-width="1.05"/><line x1="426.20" y1="883.60" x2="426.20" y2="887.20" stroke="#000" stroke-width="1.2"/><line x1="449.40" y1="844.20" x2="449.40" y2="850.38" stroke="#000" stroke-width="1.15"/><line x1="445.65" y1="844.20" x2="453.15" y2="844.20" stroke="#000" stroke-width="1.15"/><rect x="441.65" y="850.68" width="15.50" height="32.92" fill="url(#p5b)" stroke="#000" stroke-width="1.15"/><line x1="449.40" y1="883.60" x2="449.40" y2="887.20" stroke="#000" stroke-width="1.2"/><line x1="472.60" y1="849.38" x2="472.60" y2="856.30" stroke="#000" stroke-width="1.15"/><line x1="468.85" y1="849.38" x2="476.35" y2="849.38" stroke="#000" stroke-width="1.15"/><rect x="464.85" y="856.60" width="15.50" height="27.00" fill="url(#p6b)" stroke="#000" stroke-width="1.15"/><line x1="472.60" y1="883.60" x2="472.60" y2="887.20" stroke="#000" stroke-width="1.2"/><line x1="495.80" y1="859.30" x2="495.80" y2="861.31" stroke="#000" stroke-width="1.15"/><line x1="492.05" y1="859.30" x2="499.55" y2="859.30" stroke="#000" stroke-width="1.15"/><rect x="488.05" y="861.61" width="15.50" height="22.00" fill="url(#p7)" stroke="#000" stroke-width="1.15"/><line x1="495.80" y1="883.60" x2="495.80" y2="887.20" stroke="#000" stroke-width="1.2"/><line x1="344.90" y1="773.70" x2="344.90" y2="884.30" stroke="#000" stroke-width="1.5"/><line x1="344.20" y1="883.60" x2="508.50" y2="883.60" stroke="#000" stroke-width="1.5"/><line x1="341.10" y1="883.60" x2="344.90" y2="883.60" stroke="#000" stroke-width="1.2"/><text x="341.00" y="886.70" font-size="8.5" font-weight="bold" text-anchor="end" >0</text><line x1="341.10" y1="865.40" x2="344.90" y2="865.40" stroke="#000" stroke-width="1.2"/><text x="341.00" y="868.50" font-size="8.5" font-weight="bold" text-anchor="end" >20</text><line x1="341.10" y1="847.20" x2="344.90" y2="847.20" stroke="#000" stroke-width="1.2"/><text x="341.00" y="850.30" font-size="8.5" font-weight="bold" text-anchor="end" >40</text><line x1="341.10" y1="829.00" x2="344.90" y2="829.00" stroke="#000" stroke-width="1.2"/><text x="341.00" y="832.10" font-size="8.5" font-weight="bold" text-anchor="end" >60</text><line x1="341.10" y1="810.80" x2="344.90" y2="810.80" stroke="#000" stroke-width="1.2"/><text x="341.00" y="813.90" font-size="8.5" font-weight="bold" text-anchor="end" >80</text><line x1="341.10" y1="792.60" x2="344.90" y2="792.60" stroke="#000" stroke-width="1.2"/><text x="341.00" y="795.70" font-size="8.5" font-weight="bold" text-anchor="end" >100</text><line x1="341.10" y1="774.40" x2="344.90" y2="774.40" stroke="#000" stroke-width="1.2"/><text x="341.00" y="777.50" font-size="8.5" font-weight="bold" text-anchor="end" >120</text><text x="310.50" y="829.70" font-size="8.8" font-weight="bold" text-anchor="middle" transform="rotate(-90 310.50 829.70)" >% Cell Migration</text><text x="321.80" y="828.40" font-size="8.9" font-weight="bold" text-anchor="middle" transform="rotate(-90 321.80 828.40)" >(normalized)</text><text x="425.40" y="770.50" font-size="11.3" font-weight="bold" text-anchor="middle" >JVM-1</text><text x="357.70" y="893.90" font-size="8.0" font-weight="bold" text-anchor="end" transform="rotate(-45 357.70 893.90)" class="hb">Vehicle- CXCL12</text><text x="380.90" y="893.90" font-size="8.0" font-weight="bold" text-anchor="end" transform="rotate(-45 380.90 893.90)" class="hb">Vehicle + CXCL12</text><text x="404.10" y="893.90" font-size="8.0" font-weight="bold" text-anchor="end" transform="rotate(-45 404.10 893.90)" class="hb">0.0001 µM</text><text x="427.30" y="893.90" font-size="8.0" font-weight="bold" text-anchor="end" transform="rotate(-45 427.30 893.90)" class="hb">0.001 µM</text><text x="450.50" y="893.90" font-size="8.0" font-weight="bold" text-anchor="end" transform="rotate(-45 450.50 893.90)" class="hb">0.01 µM</text><text x="473.70" y="893.90" font-size="8.0" font-weight="bold" text-anchor="end" transform="rotate(-45 473.70 893.90)" class="hb">0.1 µM</text><text x="496.90" y="893.90" font-size="8.0" font-weight="bold" text-anchor="end" transform="rotate(-45 496.90 893.90)" class="hb">1µM</text><text x="447.80" y="842.15" font-size="10" font-weight="bold" text-anchor="middle" style="stroke-width:0.8px">*</text><text x="470.80" y="848.35" font-size="10" font-weight="bold" text-anchor="middle" style="stroke-width:0.8px">*</text><text x="493.50" y="856.55" font-size="10" font-weight="bold" text-anchor="middle" style="stroke-width:0.8px">*</text>
</svg>
</body></html>
